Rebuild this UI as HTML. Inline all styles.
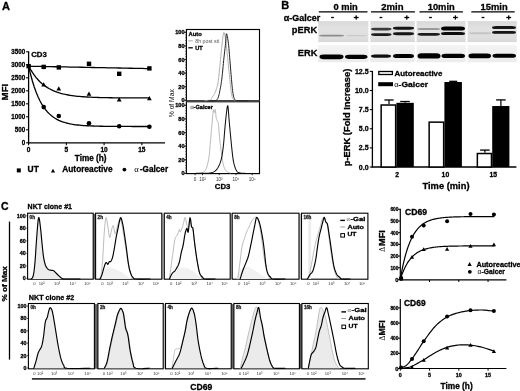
<!DOCTYPE html>
<html><head><meta charset="utf-8"><style>
html,body{margin:0;padding:0;background:#fff;}
body{width:520px;height:391px;overflow:hidden;}
svg{display:block;font-family:"Liberation Sans", sans-serif;filter:grayscale(100%);}
</style></head><body>
<svg width="520" height="391" viewBox="0 0 520 391">
<rect width="520" height="391" fill="#fff"/>
<text x="2" y="9.6" font-size="11" text-anchor="start" font-weight="bold" fill="#000" stroke="#000" stroke-width="0.3" stroke-linejoin="round">A</text>
<line x1="28.6" y1="51.30000000000001" x2="28.6" y2="143.4" stroke="#000" stroke-width="1.3"/>
<line x1="28.0" y1="142.8" x2="165" y2="142.8" stroke="#000" stroke-width="1.3"/>
<line x1="26.1" y1="142.8" x2="28.6" y2="142.8" stroke="#000" stroke-width="1.1"/>
<text x="25.2" y="145.10000000000002" font-size="6.6" text-anchor="end" font-weight="bold" fill="#000" textLength="3.48" lengthAdjust="spacingAndGlyphs" stroke="#000" stroke-width="0.3" stroke-linejoin="round">0</text>
<line x1="26.1" y1="129.8" x2="28.6" y2="129.8" stroke="#000" stroke-width="1.1"/>
<text x="25.2" y="132.10000000000002" font-size="6.6" text-anchor="end" font-weight="bold" fill="#000" textLength="10.43" lengthAdjust="spacingAndGlyphs" stroke="#000" stroke-width="0.3" stroke-linejoin="round">500</text>
<line x1="26.1" y1="116.80000000000001" x2="28.6" y2="116.80000000000001" stroke="#000" stroke-width="1.1"/>
<text x="25.2" y="119.10000000000001" font-size="6.6" text-anchor="end" font-weight="bold" fill="#000" textLength="13.9" lengthAdjust="spacingAndGlyphs" stroke="#000" stroke-width="0.3" stroke-linejoin="round">1000</text>
<line x1="26.1" y1="103.80000000000001" x2="28.6" y2="103.80000000000001" stroke="#000" stroke-width="1.1"/>
<text x="25.2" y="106.10000000000001" font-size="6.6" text-anchor="end" font-weight="bold" fill="#000" textLength="13.9" lengthAdjust="spacingAndGlyphs" stroke="#000" stroke-width="0.3" stroke-linejoin="round">1500</text>
<line x1="26.1" y1="90.80000000000001" x2="28.6" y2="90.80000000000001" stroke="#000" stroke-width="1.1"/>
<text x="25.2" y="93.10000000000001" font-size="6.6" text-anchor="end" font-weight="bold" fill="#000" textLength="13.9" lengthAdjust="spacingAndGlyphs" stroke="#000" stroke-width="0.3" stroke-linejoin="round">2000</text>
<line x1="26.1" y1="77.80000000000001" x2="28.6" y2="77.80000000000001" stroke="#000" stroke-width="1.1"/>
<text x="25.2" y="80.10000000000001" font-size="6.6" text-anchor="end" font-weight="bold" fill="#000" textLength="13.9" lengthAdjust="spacingAndGlyphs" stroke="#000" stroke-width="0.3" stroke-linejoin="round">2500</text>
<line x1="26.1" y1="64.80000000000001" x2="28.6" y2="64.80000000000001" stroke="#000" stroke-width="1.1"/>
<text x="25.2" y="67.10000000000001" font-size="6.6" text-anchor="end" font-weight="bold" fill="#000" textLength="13.9" lengthAdjust="spacingAndGlyphs" stroke="#000" stroke-width="0.3" stroke-linejoin="round">3000</text>
<line x1="26.1" y1="51.80000000000001" x2="28.6" y2="51.80000000000001" stroke="#000" stroke-width="1.1"/>
<text x="25.2" y="54.10000000000001" font-size="6.6" text-anchor="end" font-weight="bold" fill="#000" textLength="13.9" lengthAdjust="spacingAndGlyphs" stroke="#000" stroke-width="0.3" stroke-linejoin="round">3500</text>
<line x1="28.6" y1="142.8" x2="28.6" y2="145.3" stroke="#000" stroke-width="1.1"/>
<text x="28.6" y="151.9" font-size="6.5" text-anchor="middle" font-weight="bold" fill="#000" stroke="#000" stroke-width="0.3" stroke-linejoin="round">0</text>
<line x1="66.35" y1="142.8" x2="66.35" y2="145.3" stroke="#000" stroke-width="1.1"/>
<text x="66.35" y="151.9" font-size="6.5" text-anchor="middle" font-weight="bold" fill="#000" stroke="#000" stroke-width="0.3" stroke-linejoin="round">5</text>
<line x1="104.1" y1="142.8" x2="104.1" y2="145.3" stroke="#000" stroke-width="1.1"/>
<text x="104.1" y="151.9" font-size="6.5" text-anchor="middle" font-weight="bold" fill="#000" stroke="#000" stroke-width="0.3" stroke-linejoin="round">10</text>
<line x1="141.85" y1="142.8" x2="141.85" y2="145.3" stroke="#000" stroke-width="1.1"/>
<text x="141.85" y="151.9" font-size="6.5" text-anchor="middle" font-weight="bold" fill="#000" stroke="#000" stroke-width="0.3" stroke-linejoin="round">15</text>
<text x="90.7" y="161.4" font-size="8.2" text-anchor="middle" font-weight="bold" fill="#000" stroke="#000" stroke-width="0.3" stroke-linejoin="round">Time (h)</text>
<text x="7.9" y="92.1" font-size="9.4" text-anchor="middle" font-weight="bold" fill="#000" transform="rotate(-90 7.9 92.1)" textLength="16.6" lengthAdjust="spacingAndGlyphs" stroke="#000" stroke-width="0.3" stroke-linejoin="round">MFI</text>
<text x="31.2" y="57.2" font-size="7.8" text-anchor="start" font-weight="bold" fill="#000" stroke="#000" stroke-width="0.3" stroke-linejoin="round">CD3</text>
<path d="M28.60,66.20 L32.38,66.28 L36.15,66.35 L39.92,66.42 L43.70,66.50 L47.48,66.58 L51.25,66.65 L55.03,66.73 L58.80,66.80 L62.58,66.88 L66.35,66.95 L70.12,67.03 L73.90,67.10 L77.67,67.17 L81.45,67.25 L85.22,67.33 L89.00,67.40 L92.78,67.48 L96.55,67.55 L100.32,67.62 L104.10,67.70 L107.88,67.78 L111.65,67.85 L115.43,67.92 L119.20,68.00 L122.97,68.08 L126.75,68.15 L130.53,68.23 L134.30,68.30 L138.07,68.38 L141.85,68.45 L145.62,68.53 L149.40,68.60" fill="none" stroke="#000" stroke-width="1.3" stroke-linejoin="round" stroke-linecap="round"/>
<path d="M28.60,66.00 L30.49,69.40 L32.38,72.45 L34.26,75.17 L36.15,77.60 L38.04,79.77 L39.92,81.71 L41.81,83.44 L43.70,84.99 L45.59,86.37 L47.48,87.61 L49.36,88.72 L51.25,89.70 L53.14,90.59 L55.03,91.38 L56.91,92.08 L58.80,92.71 L60.69,93.27 L62.58,93.78 L64.46,94.23 L66.35,94.63 L68.24,94.99 L70.12,95.31 L72.01,95.59 L73.90,95.85 L75.79,96.08 L77.67,96.28 L79.56,96.47 L81.45,96.63 L83.34,96.77 L85.22,96.91 L87.11,97.02 L89.00,97.13 L90.89,97.22 L92.78,97.30 L94.66,97.38 L96.55,97.44 L98.44,97.50 L100.32,97.55 L102.21,97.60 L104.10,97.64 L105.99,97.68 L107.88,97.72 L109.76,97.75 L111.65,97.77 L113.54,97.80 L115.43,97.82 L117.31,97.84 L119.20,97.86 L121.09,97.87 L122.97,97.88 L124.86,97.90 L126.75,97.91 L128.64,97.92 L130.53,97.93 L132.41,97.93 L134.30,97.94 L136.19,97.95 L138.07,97.95 L139.96,97.96 L141.85,97.96 L143.74,97.97 L145.62,97.97 L147.51,97.97 L149.40,97.98" fill="none" stroke="#000" stroke-width="1.3" stroke-linejoin="round" stroke-linecap="round"/>
<path d="M28.60,66.00 L30.49,74.04 L32.38,81.00 L34.26,87.05 L36.15,92.29 L38.04,96.83 L39.92,100.77 L41.81,104.19 L43.70,107.15 L45.59,109.72 L47.48,111.95 L49.36,113.88 L51.25,115.56 L53.14,117.01 L55.03,118.27 L56.91,119.36 L58.80,120.31 L60.69,121.13 L62.58,121.85 L64.46,122.46 L66.35,123.00 L68.24,123.47 L70.12,123.87 L72.01,124.22 L73.90,124.52 L75.79,124.78 L77.67,125.01 L79.56,125.21 L81.45,125.38 L83.34,125.53 L85.22,125.66 L87.11,125.77 L89.00,125.87 L90.89,125.95 L92.78,126.02 L94.66,126.09 L96.55,126.14 L98.44,126.19 L100.32,126.23 L102.21,126.27 L104.10,126.30 L105.99,126.32 L107.88,126.35 L109.76,126.37 L111.65,126.39 L113.54,126.40 L115.43,126.41 L117.31,126.43 L119.20,126.44 L121.09,126.44 L122.97,126.45 L124.86,126.46 L126.75,126.46 L128.64,126.47 L130.53,126.47 L132.41,126.48 L134.30,126.48 L136.19,126.48 L138.07,126.48 L139.96,126.49 L141.85,126.49 L143.74,126.49 L145.62,126.49 L147.51,126.49 L149.40,126.49" fill="none" stroke="#000" stroke-width="1.3" stroke-linejoin="round" stroke-linecap="round"/>
<rect x="26.400000000000002" y="64.0" width="4.4" height="4.4" fill="#000"/>
<rect x="41.5" y="64.7" width="4.4" height="4.4" fill="#000"/>
<rect x="56.599999999999994" y="65.2" width="4.4" height="4.4" fill="#000"/>
<rect x="86.8" y="61.599999999999994" width="4.4" height="4.4" fill="#000"/>
<rect x="116.99999999999999" y="71.6" width="4.4" height="4.4" fill="#000"/>
<rect x="147.20000000000002" y="66.2" width="4.4" height="4.4" fill="#000"/>
<path d="M41.30,86.46 L46.10,86.46 L43.70,82.14 Z" fill="#000"/>
<path d="M56.40,90.46 L61.20,90.46 L58.80,86.14 Z" fill="#000"/>
<path d="M86.60,95.86 L91.40,95.86 L89.00,91.54 Z" fill="#000"/>
<path d="M116.80,101.46 L121.60,101.46 L119.20,97.14 Z" fill="#000"/>
<path d="M147.00,100.36 L151.80,100.36 L149.40,96.04 Z" fill="#000"/>
<circle cx="43.70" cy="107.10" r="2.3" fill="#000"/>
<circle cx="58.80" cy="116.00" r="2.3" fill="#000"/>
<circle cx="89.00" cy="123.20" r="2.3" fill="#000"/>
<circle cx="119.20" cy="126.30" r="2.3" fill="#000"/>
<circle cx="149.40" cy="126.70" r="2.3" fill="#000"/>
<rect x="16.8" y="168.4" width="4.0" height="4.0" fill="#000"/>
<text x="27.6" y="172.3" font-size="8.4" text-anchor="start" font-weight="bold" fill="#000" stroke="#000" stroke-width="0.3" stroke-linejoin="round">UT</text>
<path d="M50.90,172.49 L55.10,172.49 L53.00,168.71 Z" fill="#000"/>
<text x="62.3" y="172.3" font-size="8.2" text-anchor="start" font-weight="bold" fill="#000" textLength="50.3" lengthAdjust="spacingAndGlyphs" stroke="#000" stroke-width="0.3" stroke-linejoin="round">Autoreactive</text>
<circle cx="124.40" cy="169.60" r="1.9" fill="#000"/>
<text x="134.3" y="172.0" font-size="8.6" text-anchor="start" font-weight="normal" fill="#000" font-family="Liberation Serif">α</text>
<text x="139.8" y="172.0" font-size="8.3" text-anchor="start" font-weight="bold" fill="#000" textLength="28.3" lengthAdjust="spacingAndGlyphs" stroke="#000" stroke-width="0.3" stroke-linejoin="round">-Galcer</text>
<rect x="186.4" y="29.5" width="73.1" height="71.3" fill="none" stroke="#000" stroke-width="1.15"/>
<rect x="186.4" y="101.6" width="73.1" height="72.0" fill="none" stroke="#000" stroke-width="1.15"/>
<line x1="186.4" y1="101.2" x2="259.5" y2="101.2" stroke="#444" stroke-width="2.2"/>
<text x="184.5" y="34.3" font-size="5.6" text-anchor="end" font-weight="bold" fill="#000" stroke="#000" stroke-width="0.3" stroke-linejoin="round">100</text>
<line x1="184.2" y1="32.3" x2="186.4" y2="32.3" stroke="#000" stroke-width="0.9"/>
<text x="184.5" y="107.3" font-size="5.6" text-anchor="end" font-weight="bold" fill="#000" stroke="#000" stroke-width="0.3" stroke-linejoin="round">100</text>
<line x1="184.2" y1="105.3" x2="186.4" y2="105.3" stroke="#000" stroke-width="0.9"/>
<text x="184.5" y="47.9" font-size="5.6" text-anchor="end" font-weight="bold" fill="#000" stroke="#000" stroke-width="0.3" stroke-linejoin="round">80</text>
<line x1="184.2" y1="45.9" x2="186.4" y2="45.9" stroke="#000" stroke-width="0.9"/>
<text x="184.5" y="120.92" font-size="5.6" text-anchor="end" font-weight="bold" fill="#000" stroke="#000" stroke-width="0.3" stroke-linejoin="round">80</text>
<line x1="184.2" y1="118.92" x2="186.4" y2="118.92" stroke="#000" stroke-width="0.9"/>
<text x="184.5" y="61.5" font-size="5.6" text-anchor="end" font-weight="bold" fill="#000" stroke="#000" stroke-width="0.3" stroke-linejoin="round">60</text>
<line x1="184.2" y1="59.5" x2="186.4" y2="59.5" stroke="#000" stroke-width="0.9"/>
<text x="184.5" y="134.54" font-size="5.6" text-anchor="end" font-weight="bold" fill="#000" stroke="#000" stroke-width="0.3" stroke-linejoin="round">60</text>
<line x1="184.2" y1="132.54" x2="186.4" y2="132.54" stroke="#000" stroke-width="0.9"/>
<text x="184.5" y="75.1" font-size="5.6" text-anchor="end" font-weight="bold" fill="#000" stroke="#000" stroke-width="0.3" stroke-linejoin="round">40</text>
<line x1="184.2" y1="73.1" x2="186.4" y2="73.1" stroke="#000" stroke-width="0.9"/>
<text x="184.5" y="148.16" font-size="5.6" text-anchor="end" font-weight="bold" fill="#000" stroke="#000" stroke-width="0.3" stroke-linejoin="round">40</text>
<line x1="184.2" y1="146.16" x2="186.4" y2="146.16" stroke="#000" stroke-width="0.9"/>
<text x="184.5" y="88.69999999999999" font-size="5.6" text-anchor="end" font-weight="bold" fill="#000" stroke="#000" stroke-width="0.3" stroke-linejoin="round">20</text>
<line x1="184.2" y1="86.69999999999999" x2="186.4" y2="86.69999999999999" stroke="#000" stroke-width="0.9"/>
<text x="184.5" y="161.78" font-size="5.6" text-anchor="end" font-weight="bold" fill="#000" stroke="#000" stroke-width="0.3" stroke-linejoin="round">20</text>
<line x1="184.2" y1="159.78" x2="186.4" y2="159.78" stroke="#000" stroke-width="0.9"/>
<text x="184.5" y="102.3" font-size="5.6" text-anchor="end" font-weight="bold" fill="#000" stroke="#000" stroke-width="0.3" stroke-linejoin="round">0</text>
<line x1="184.2" y1="100.3" x2="186.4" y2="100.3" stroke="#000" stroke-width="0.9"/>
<text x="184.5" y="175.39999999999998" font-size="5.6" text-anchor="end" font-weight="bold" fill="#000" stroke="#000" stroke-width="0.3" stroke-linejoin="round">0</text>
<line x1="184.2" y1="173.39999999999998" x2="186.4" y2="173.39999999999998" stroke="#000" stroke-width="0.9"/>
<line x1="185.0" y1="32.3" x2="186.4" y2="32.3" stroke="#333" stroke-width="0.6"/>
<line x1="185.0" y1="105.3" x2="186.4" y2="105.3" stroke="#333" stroke-width="0.6"/>
<line x1="185.0" y1="35.019999999999996" x2="186.4" y2="35.019999999999996" stroke="#333" stroke-width="0.6"/>
<line x1="185.0" y1="108.024" x2="186.4" y2="108.024" stroke="#333" stroke-width="0.6"/>
<line x1="185.0" y1="37.739999999999995" x2="186.4" y2="37.739999999999995" stroke="#333" stroke-width="0.6"/>
<line x1="185.0" y1="110.74799999999999" x2="186.4" y2="110.74799999999999" stroke="#333" stroke-width="0.6"/>
<line x1="185.0" y1="40.459999999999994" x2="186.4" y2="40.459999999999994" stroke="#333" stroke-width="0.6"/>
<line x1="185.0" y1="113.472" x2="186.4" y2="113.472" stroke="#333" stroke-width="0.6"/>
<line x1="185.0" y1="43.17999999999999" x2="186.4" y2="43.17999999999999" stroke="#333" stroke-width="0.6"/>
<line x1="185.0" y1="116.196" x2="186.4" y2="116.196" stroke="#333" stroke-width="0.6"/>
<line x1="185.0" y1="45.9" x2="186.4" y2="45.9" stroke="#333" stroke-width="0.6"/>
<line x1="185.0" y1="118.92" x2="186.4" y2="118.92" stroke="#333" stroke-width="0.6"/>
<line x1="185.0" y1="48.62" x2="186.4" y2="48.62" stroke="#333" stroke-width="0.6"/>
<line x1="185.0" y1="121.644" x2="186.4" y2="121.644" stroke="#333" stroke-width="0.6"/>
<line x1="185.0" y1="51.339999999999996" x2="186.4" y2="51.339999999999996" stroke="#333" stroke-width="0.6"/>
<line x1="185.0" y1="124.368" x2="186.4" y2="124.368" stroke="#333" stroke-width="0.6"/>
<line x1="185.0" y1="54.059999999999995" x2="186.4" y2="54.059999999999995" stroke="#333" stroke-width="0.6"/>
<line x1="185.0" y1="127.092" x2="186.4" y2="127.092" stroke="#333" stroke-width="0.6"/>
<line x1="185.0" y1="56.779999999999994" x2="186.4" y2="56.779999999999994" stroke="#333" stroke-width="0.6"/>
<line x1="185.0" y1="129.816" x2="186.4" y2="129.816" stroke="#333" stroke-width="0.6"/>
<line x1="185.0" y1="59.5" x2="186.4" y2="59.5" stroke="#333" stroke-width="0.6"/>
<line x1="185.0" y1="132.54" x2="186.4" y2="132.54" stroke="#333" stroke-width="0.6"/>
<line x1="185.0" y1="62.22" x2="186.4" y2="62.22" stroke="#333" stroke-width="0.6"/>
<line x1="185.0" y1="135.264" x2="186.4" y2="135.264" stroke="#333" stroke-width="0.6"/>
<line x1="185.0" y1="64.94" x2="186.4" y2="64.94" stroke="#333" stroke-width="0.6"/>
<line x1="185.0" y1="137.988" x2="186.4" y2="137.988" stroke="#333" stroke-width="0.6"/>
<line x1="185.0" y1="67.66" x2="186.4" y2="67.66" stroke="#333" stroke-width="0.6"/>
<line x1="185.0" y1="140.712" x2="186.4" y2="140.712" stroke="#333" stroke-width="0.6"/>
<line x1="185.0" y1="70.38" x2="186.4" y2="70.38" stroke="#333" stroke-width="0.6"/>
<line x1="185.0" y1="143.43599999999998" x2="186.4" y2="143.43599999999998" stroke="#333" stroke-width="0.6"/>
<line x1="185.0" y1="73.1" x2="186.4" y2="73.1" stroke="#333" stroke-width="0.6"/>
<line x1="185.0" y1="146.16" x2="186.4" y2="146.16" stroke="#333" stroke-width="0.6"/>
<line x1="185.0" y1="75.82" x2="186.4" y2="75.82" stroke="#333" stroke-width="0.6"/>
<line x1="185.0" y1="148.884" x2="186.4" y2="148.884" stroke="#333" stroke-width="0.6"/>
<line x1="185.0" y1="78.53999999999999" x2="186.4" y2="78.53999999999999" stroke="#333" stroke-width="0.6"/>
<line x1="185.0" y1="151.608" x2="186.4" y2="151.608" stroke="#333" stroke-width="0.6"/>
<line x1="185.0" y1="81.25999999999999" x2="186.4" y2="81.25999999999999" stroke="#333" stroke-width="0.6"/>
<line x1="185.0" y1="154.332" x2="186.4" y2="154.332" stroke="#333" stroke-width="0.6"/>
<line x1="185.0" y1="83.97999999999999" x2="186.4" y2="83.97999999999999" stroke="#333" stroke-width="0.6"/>
<line x1="185.0" y1="157.05599999999998" x2="186.4" y2="157.05599999999998" stroke="#333" stroke-width="0.6"/>
<line x1="185.0" y1="86.69999999999999" x2="186.4" y2="86.69999999999999" stroke="#333" stroke-width="0.6"/>
<line x1="185.0" y1="159.78" x2="186.4" y2="159.78" stroke="#333" stroke-width="0.6"/>
<line x1="185.0" y1="89.41999999999999" x2="186.4" y2="89.41999999999999" stroke="#333" stroke-width="0.6"/>
<line x1="185.0" y1="162.504" x2="186.4" y2="162.504" stroke="#333" stroke-width="0.6"/>
<line x1="185.0" y1="92.13999999999999" x2="186.4" y2="92.13999999999999" stroke="#333" stroke-width="0.6"/>
<line x1="185.0" y1="165.228" x2="186.4" y2="165.228" stroke="#333" stroke-width="0.6"/>
<line x1="185.0" y1="94.86" x2="186.4" y2="94.86" stroke="#333" stroke-width="0.6"/>
<line x1="185.0" y1="167.952" x2="186.4" y2="167.952" stroke="#333" stroke-width="0.6"/>
<line x1="185.0" y1="97.58" x2="186.4" y2="97.58" stroke="#333" stroke-width="0.6"/>
<line x1="185.0" y1="170.676" x2="186.4" y2="170.676" stroke="#333" stroke-width="0.6"/>
<line x1="185.0" y1="100.3" x2="186.4" y2="100.3" stroke="#333" stroke-width="0.6"/>
<line x1="185.0" y1="173.39999999999998" x2="186.4" y2="173.39999999999998" stroke="#333" stroke-width="0.6"/>
<text x="174.0" y="103.2" font-size="7.0" text-anchor="middle" font-weight="normal" fill="#111" transform="rotate(-90 174.0 103.2)" textLength="28.0" lengthAdjust="spacingAndGlyphs">% of Max</text>
<text x="188.6" y="35.6" font-size="5.8" text-anchor="start" font-weight="bold" fill="#000" stroke="#000" stroke-width="0.3" stroke-linejoin="round">Auto</text>
<line x1="188.3" y1="40.8" x2="192.8" y2="40.8" stroke="#aaa" stroke-width="1.0"/>
<text x="195.2" y="42.8" font-size="5.3" text-anchor="start" font-weight="normal" fill="#555">8h post sti</text>
<line x1="188.3" y1="47.8" x2="192.8" y2="47.8" stroke="#000" stroke-width="1.3"/>
<text x="195.2" y="49.8" font-size="5.6" text-anchor="start" font-weight="bold" fill="#000" stroke="#000" stroke-width="0.3" stroke-linejoin="round">UT</text>
<text x="190.2" y="108.8" font-size="5.6" text-anchor="start" font-weight="bold" fill="#999" stroke="#999" stroke-width="0.3" stroke-linejoin="round">α</text>
<text x="193.6" y="108.8" font-size="5.6" text-anchor="start" font-weight="bold" fill="#000" stroke="#000" stroke-width="0.3" stroke-linejoin="round">-Galcer</text>
<path d="M205.00,100.60 L205.33,100.58 L205.80,100.56 L206.35,100.53 L206.93,100.49 L207.50,100.45 L208.00,100.40 L208.44,100.37 L208.86,100.37 L209.27,100.37 L209.66,100.33 L210.04,100.21 L210.40,100.00 L210.73,99.68 L211.03,99.29 L211.32,98.82 L211.61,98.29 L211.93,97.72 L212.30,97.10 L212.73,96.48 L213.20,95.84 L213.69,95.16 L214.20,94.39 L214.71,93.48 L215.20,92.40 L215.68,91.18 L216.17,89.87 L216.66,88.42 L217.14,86.80 L217.59,84.97 L218.00,82.90 L218.37,80.52 L218.70,77.86 L219.01,74.99 L219.30,71.99 L219.59,68.94 L219.90,65.90 L220.22,62.79 L220.53,59.54 L220.85,56.23 L221.17,52.95 L221.48,49.81 L221.80,46.90 L222.12,44.01 L222.43,41.04 L222.75,38.19 L223.07,35.71 L223.38,33.80 L223.70,32.70 L224.02,32.49 L224.33,33.00 L224.65,34.10 L224.97,35.63 L225.28,37.45 L225.60,39.40 L225.92,41.62 L226.23,44.23 L226.55,47.14 L226.87,50.21 L227.18,53.34 L227.50,56.40 L227.82,59.46 L228.13,62.63 L228.45,65.84 L228.77,69.06 L229.08,72.23 L229.40,75.30 L229.72,78.38 L230.04,81.52 L230.36,84.62 L230.67,87.54 L230.99,90.18 L231.30,92.40 L231.59,94.17 L231.87,95.56 L232.14,96.67 L232.42,97.56 L232.74,98.31 L233.10,99.00 L233.55,99.57 L234.09,99.96 L234.66,100.21 L235.21,100.37 L235.67,100.48 L236.00,100.60" fill="none" stroke="#a8a8a8" stroke-width="0.9" stroke-linejoin="round" stroke-linecap="round"/>
<path d="M208.00,100.80 L208.83,100.82 L210.03,100.87 L211.43,100.91 L212.86,100.92 L214.17,100.86 L215.20,100.70 L215.93,100.47 L216.49,100.20 L216.93,99.87 L217.30,99.43 L217.64,98.85 L218.00,98.10 L218.37,97.17 L218.70,96.08 L219.01,94.85 L219.30,93.50 L219.59,92.04 L219.90,90.50 L220.22,88.91 L220.53,87.26 L220.85,85.51 L221.17,83.60 L221.48,81.48 L221.80,79.10 L222.12,76.36 L222.43,73.29 L222.75,70.00 L223.07,66.64 L223.38,63.33 L223.70,60.20 L224.03,57.17 L224.37,54.11 L224.71,51.11 L225.04,48.24 L225.34,45.58 L225.60,43.20 L225.80,40.96 L225.94,38.77 L226.05,36.79 L226.16,35.18 L226.30,34.10 L226.50,33.70 L226.76,34.10 L227.07,35.18 L227.41,36.79 L227.76,38.77 L228.09,40.96 L228.40,43.20 L228.67,45.60 L228.93,48.31 L229.18,51.23 L229.42,54.26 L229.66,57.28 L229.90,60.20 L230.14,63.08 L230.38,66.00 L230.61,68.93 L230.84,71.81 L231.07,74.58 L231.30,77.20 L231.52,79.70 L231.73,82.12 L231.94,84.44 L232.16,86.63 L232.37,88.66 L232.60,90.50 L232.82,92.15 L233.04,93.64 L233.26,94.97 L233.50,96.15 L233.77,97.19 L234.10,98.10 L234.40,98.85 L234.63,99.43 L234.90,99.87 L235.30,100.20 L235.94,100.47 L236.90,100.70 L238.40,100.86 L240.40,100.92 L242.62,100.91 L244.81,100.87 L246.70,100.82 L248.00,100.80" fill="none" stroke="#222" stroke-width="1.0" stroke-linejoin="round" stroke-linecap="round"/>
<path d="M200.00,173.00 L200.40,172.92 L200.96,172.84 L201.62,172.74 L202.33,172.58 L203.00,172.34 L203.60,172.00 L204.12,171.61 L204.60,171.19 L205.07,170.69 L205.52,170.06 L205.96,169.25 L206.40,168.20 L206.85,166.88 L207.30,165.33 L207.74,163.59 L208.17,161.72 L208.56,159.77 L208.90,157.80 L209.19,155.79 L209.42,153.68 L209.62,151.50 L209.81,149.25 L210.00,146.95 L210.20,144.60 L210.42,142.16 L210.64,139.61 L210.86,137.00 L211.07,134.39 L211.29,131.84 L211.50,129.40 L211.71,127.01 L211.92,124.60 L212.13,122.25 L212.33,120.02 L212.52,117.98 L212.70,116.20 L212.86,114.63 L212.99,113.23 L213.12,112.01 L213.24,111.01 L213.37,110.26 L213.50,109.80 L213.65,109.79 L213.80,110.23 L213.95,110.93 L214.10,111.68 L214.25,112.27 L214.40,112.50 L214.54,112.22 L214.67,111.57 L214.80,110.76 L214.93,110.01 L215.06,109.55 L215.20,109.60 L215.35,110.29 L215.50,111.47 L215.66,112.93 L215.81,114.48 L215.96,115.90 L216.10,117.00 L216.22,117.75 L216.32,118.30 L216.41,118.73 L216.51,119.11 L216.64,119.51 L216.80,120.00 L217.00,120.44 L217.24,120.76 L217.51,121.09 L217.78,121.59 L218.05,122.41 L218.30,123.70 L218.53,125.57 L218.76,127.92 L218.98,130.59 L219.20,133.41 L219.44,136.24 L219.70,138.90 L219.99,141.47 L220.30,144.08 L220.62,146.69 L220.95,149.24 L221.28,151.70 L221.60,154.00 L221.91,156.18 L222.20,158.29 L222.49,160.29 L222.80,162.16 L223.13,163.87 L223.50,165.40 L223.90,166.72 L224.33,167.86 L224.79,168.84 L225.27,169.69 L225.77,170.44 L226.30,171.10 L226.91,171.66 L227.60,172.09 L228.33,172.41 L229.01,172.65 L229.59,172.84 L230.00,173.00" fill="none" stroke="#b0b0b0" stroke-width="0.9" stroke-linejoin="round" stroke-linecap="round"/>
<path d="M196.00,173.30 L197.54,173.29 L199.73,173.28 L202.30,173.27 L204.94,173.23 L207.38,173.15 L209.30,173.00 L210.70,172.81 L211.80,172.59 L212.69,172.33 L213.45,172.01 L214.16,171.60 L214.90,171.10 L215.65,170.51 L216.33,169.85 L216.97,169.11 L217.57,168.28 L218.14,167.35 L218.70,166.30 L219.25,165.15 L219.77,163.91 L220.27,162.58 L220.74,161.12 L221.18,159.53 L221.60,157.80 L221.98,155.90 L222.33,153.82 L222.65,151.62 L222.95,149.32 L223.23,146.97 L223.50,144.60 L223.75,142.18 L223.97,139.68 L224.18,137.12 L224.37,134.53 L224.58,131.95 L224.80,129.40 L225.04,126.80 L225.29,124.12 L225.54,121.44 L225.79,118.85 L226.05,116.44 L226.30,114.30 L226.55,112.23 L226.81,110.10 L227.06,108.16 L227.31,106.63 L227.56,105.73 L227.80,105.70 L228.03,106.75 L228.24,108.74 L228.46,111.37 L228.67,114.33 L228.88,117.31 L229.10,120.00 L229.33,122.47 L229.56,124.97 L229.79,127.50 L230.02,130.04 L230.26,132.57 L230.50,135.10 L230.74,137.66 L230.99,140.27 L231.24,142.88 L231.50,145.44 L231.75,147.90 L232.00,150.20 L232.24,152.36 L232.47,154.41 L232.70,156.37 L232.94,158.22 L233.20,159.96 L233.50,161.60 L233.83,163.14 L234.19,164.57 L234.57,165.90 L234.97,167.12 L235.38,168.22 L235.80,169.20 L236.20,170.04 L236.56,170.74 L236.94,171.33 L237.38,171.82 L237.92,172.24 L238.60,172.60 L239.53,172.88 L240.70,173.06 L241.97,173.16 L243.21,173.22 L244.26,173.26 L245.00,173.30" fill="none" stroke="#111" stroke-width="1.05" stroke-linejoin="round" stroke-linecap="round"/>
<text x="195.1" y="180.6" font-size="4.6" text-anchor="middle" font-weight="normal" fill="#333">0</text>
<text x="202.5" y="180.6" font-size="4.6" text-anchor="middle" font-weight="normal" fill="#333">10²</text>
<text x="219.2" y="180.6" font-size="4.6" text-anchor="middle" font-weight="normal" fill="#333">10³</text>
<text x="236" y="180.6" font-size="4.6" text-anchor="middle" font-weight="normal" fill="#333">10⁴</text>
<text x="252.2" y="180.6" font-size="4.6" text-anchor="middle" font-weight="normal" fill="#333">10⁵</text>
<line x1="195.1" y1="173.4" x2="195.1" y2="175.2" stroke="#000" stroke-width="0.8"/>
<line x1="202.5" y1="173.4" x2="202.5" y2="175.2" stroke="#000" stroke-width="0.8"/>
<line x1="219.2" y1="173.4" x2="219.2" y2="175.2" stroke="#000" stroke-width="0.8"/>
<line x1="236" y1="173.4" x2="236" y2="175.2" stroke="#000" stroke-width="0.8"/>
<line x1="252.2" y1="173.4" x2="252.2" y2="175.2" stroke="#000" stroke-width="0.8"/>
<text x="222.6" y="188.6" font-size="7.8" text-anchor="middle" font-weight="bold" fill="#000" stroke="#000" stroke-width="0.3" stroke-linejoin="round">CD3</text>
<defs><filter id="bl" x="-20%" y="-100%" width="140%" height="300%"><feGaussianBlur stdDeviation="0.6"/></filter><linearGradient id="pg" x1="0" y1="0" x2="0" y2="1"><stop offset="0" stop-color="#d9d9d9"/><stop offset="0.35" stop-color="#e2e2e2"/><stop offset="0.8" stop-color="#dedede"/><stop offset="1" stop-color="#d8d8d8"/></linearGradient><linearGradient id="eg" x1="0" y1="0" x2="0" y2="1"><stop offset="0" stop-color="#f4f4f4"/><stop offset="0.5" stop-color="#eeeeee"/><stop offset="1" stop-color="#ececec"/></linearGradient><filter id="bl2" x="-20%" y="-100%" width="140%" height="300%"><feGaussianBlur stdDeviation="0.45"/></filter></defs>
<text x="281.3" y="9.2" font-size="11" text-anchor="start" font-weight="bold" fill="#000" stroke="#000" stroke-width="0.3" stroke-linejoin="round">B</text>
<text x="345.6" y="9.8" font-size="9.4" text-anchor="middle" font-weight="bold" fill="#000" textLength="24.4" lengthAdjust="spacingAndGlyphs" stroke="#000" stroke-width="0.3" stroke-linejoin="round">0 min</text>
<line x1="318.8" y1="11.8" x2="367.5" y2="11.8" stroke="#000" stroke-width="1.2"/>
<rect x="331.15" y="16.85" width="2.7" height="1.3" fill="#000"/>
<rect x="353.8" y="16.85" width="4.8" height="1.3" fill="#000"/>
<rect x="355.55" y="15.4" width="1.3" height="4.2" fill="#000"/>
<rect x="318.2" y="21.1" width="50.19999999999999" height="21.0" fill="url(#pg)"/>
<rect x="318.2" y="45.0" width="50.19999999999999" height="17.2" fill="url(#eg)"/>
<text x="392.4" y="9.8" font-size="9.4" text-anchor="middle" font-weight="bold" fill="#000" textLength="22.4" lengthAdjust="spacingAndGlyphs" stroke="#000" stroke-width="0.3" stroke-linejoin="round">2min</text>
<line x1="371.0" y1="11.8" x2="414.9" y2="11.8" stroke="#000" stroke-width="1.2"/>
<rect x="379.54999999999995" y="16.85" width="2.7" height="1.3" fill="#000"/>
<rect x="404.40000000000003" y="16.85" width="4.8" height="1.3" fill="#000"/>
<rect x="406.15000000000003" y="15.4" width="1.3" height="4.2" fill="#000"/>
<rect x="370.4" y="21.1" width="44.400000000000034" height="21.0" fill="url(#pg)"/>
<rect x="370.4" y="45.0" width="44.400000000000034" height="17.2" fill="url(#eg)"/>
<text x="441.2" y="9.8" font-size="9.4" text-anchor="middle" font-weight="bold" fill="#000" textLength="27.0" lengthAdjust="spacingAndGlyphs" stroke="#000" stroke-width="0.3" stroke-linejoin="round">10min</text>
<line x1="419.5" y1="11.8" x2="462.9" y2="11.8" stroke="#000" stroke-width="1.2"/>
<rect x="429.15" y="16.85" width="2.7" height="1.3" fill="#000"/>
<rect x="453.0" y="16.85" width="4.8" height="1.3" fill="#000"/>
<rect x="454.75" y="15.4" width="1.3" height="4.2" fill="#000"/>
<rect x="416.6" y="21.1" width="49.0" height="21.0" fill="url(#pg)"/>
<rect x="416.6" y="45.0" width="49.0" height="17.2" fill="url(#eg)"/>
<text x="494.1" y="9.8" font-size="9.4" text-anchor="middle" font-weight="bold" fill="#000" textLength="27.0" lengthAdjust="spacingAndGlyphs" stroke="#000" stroke-width="0.3" stroke-linejoin="round">15min</text>
<line x1="471.3" y1="11.8" x2="514.7" y2="11.8" stroke="#000" stroke-width="1.2"/>
<rect x="481.65" y="16.85" width="2.7" height="1.3" fill="#000"/>
<rect x="506.3" y="16.85" width="4.8" height="1.3" fill="#000"/>
<rect x="508.05" y="15.4" width="1.3" height="4.2" fill="#000"/>
<rect x="467.6" y="21.1" width="49.19999999999993" height="21.0" fill="url(#pg)"/>
<rect x="467.6" y="45.0" width="49.19999999999993" height="17.2" fill="url(#eg)"/>
<text x="283.8" y="20.5" font-size="8.6" text-anchor="start" font-weight="bold" fill="#000" textLength="36.4" lengthAdjust="spacingAndGlyphs" stroke="#000" stroke-width="0.3" stroke-linejoin="round">α-Galcer</text>
<text x="291.8" y="32.8" font-size="9.3" text-anchor="start" font-weight="bold" fill="#000" stroke="#000" stroke-width="0.3" stroke-linejoin="round">pERK</text>
<text x="297.8" y="56.4" font-size="9.3" text-anchor="start" font-weight="bold" fill="#000" textLength="19.6" lengthAdjust="spacingAndGlyphs" stroke="#000" stroke-width="0.3" stroke-linejoin="round">ERK</text>
<rect x="319.00" y="34.70" width="25.00" height="1.80" rx="4" ry="0.90" fill="#8c8c8c" filter="url(#bl)"/>
<rect x="346.00" y="34.90" width="21.00" height="1.40" rx="4" ry="0.70" fill="#cacaca" filter="url(#bl)"/>
<rect x="371.00" y="27.80" width="20.50" height="2.60" rx="4" ry="1.30" fill="#3a3a3a" filter="url(#bl)"/>
<rect x="371.00" y="33.20" width="20.50" height="2.80" rx="4" ry="1.40" fill="#1c1c1c" filter="url(#bl)"/>
<rect x="393.00" y="26.85" width="21.00" height="2.90" rx="4" ry="1.45" fill="#151515" filter="url(#bl)"/>
<rect x="393.00" y="32.25" width="21.00" height="2.90" rx="4" ry="1.45" fill="#151515" filter="url(#bl)"/>
<rect x="417.50" y="27.90" width="22.50" height="2.20" rx="4" ry="1.10" fill="#9a9a9a" filter="url(#bl)"/>
<rect x="417.50" y="32.90" width="22.50" height="2.80" rx="4" ry="1.40" fill="#1a1a1a" filter="url(#bl)"/>
<rect x="441.00" y="26.60" width="24.00" height="4.00" rx="4" ry="2.00" fill="#000" filter="url(#bl)"/>
<rect x="441.00" y="32.10" width="24.00" height="3.00" rx="4" ry="1.50" fill="#0a0a0a" filter="url(#bl)"/>
<rect x="469.00" y="32.20" width="22.00" height="2.00" rx="4" ry="1.00" fill="#c4c4c4" filter="url(#bl)"/>
<rect x="492.00" y="25.90" width="24.00" height="3.00" rx="4" ry="1.50" fill="#151515" filter="url(#bl)"/>
<rect x="492.00" y="31.00" width="24.00" height="2.80" rx="4" ry="1.40" fill="#151515" filter="url(#bl)"/>
<rect x="319.50" y="54.40" width="24.00" height="4.80" rx="4" ry="2.40" fill="#000" filter="url(#bl)"/>
<rect x="345.00" y="54.70" width="22.50" height="4.20" rx="4" ry="2.10" fill="#000" filter="url(#bl)"/>
<rect x="371.00" y="54.40" width="20.00" height="3.40" rx="4" ry="1.70" fill="#0a0a0a" filter="url(#bl)"/>
<rect x="393.00" y="53.90" width="21.00" height="4.00" rx="4" ry="2.00" fill="#000" filter="url(#bl)"/>
<rect x="417.50" y="53.30" width="23.00" height="5.20" rx="4" ry="2.60" fill="#000" filter="url(#bl)"/>
<rect x="441.50" y="53.80" width="23.50" height="4.20" rx="4" ry="2.10" fill="#000" filter="url(#bl)"/>
<rect x="468.50" y="53.60" width="22.50" height="4.60" rx="4" ry="2.30" fill="#000" filter="url(#bl)"/>
<rect x="492.50" y="53.70" width="23.50" height="4.00" rx="4" ry="2.00" fill="#000" filter="url(#bl)"/>
<line x1="372.4" y1="70.875" x2="372.4" y2="167.6" stroke="#000" stroke-width="1.3"/>
<line x1="371.79999999999995" y1="167.0" x2="516.4" y2="167.0" stroke="#000" stroke-width="1.3"/>
<line x1="369.79999999999995" y1="167.0" x2="372.4" y2="167.0" stroke="#000" stroke-width="1.1"/>
<text x="368.6" y="169.5" font-size="7.0" text-anchor="end" font-weight="bold" fill="#000" stroke="#000" stroke-width="0.3" stroke-linejoin="round">0.0</text>
<line x1="369.79999999999995" y1="147.875" x2="372.4" y2="147.875" stroke="#000" stroke-width="1.1"/>
<text x="368.6" y="150.375" font-size="7.0" text-anchor="end" font-weight="bold" fill="#000" stroke="#000" stroke-width="0.3" stroke-linejoin="round">2.5</text>
<line x1="369.79999999999995" y1="128.75" x2="372.4" y2="128.75" stroke="#000" stroke-width="1.1"/>
<text x="368.6" y="131.25" font-size="7.0" text-anchor="end" font-weight="bold" fill="#000" stroke="#000" stroke-width="0.3" stroke-linejoin="round">5.0</text>
<line x1="369.79999999999995" y1="109.625" x2="372.4" y2="109.625" stroke="#000" stroke-width="1.1"/>
<text x="368.6" y="112.125" font-size="7.0" text-anchor="end" font-weight="bold" fill="#000" stroke="#000" stroke-width="0.3" stroke-linejoin="round">7.5</text>
<line x1="369.79999999999995" y1="90.5" x2="372.4" y2="90.5" stroke="#000" stroke-width="1.1"/>
<text x="368.6" y="93.0" font-size="7.0" text-anchor="end" font-weight="bold" fill="#000" stroke="#000" stroke-width="0.3" stroke-linejoin="round">10.0</text>
<line x1="369.79999999999995" y1="71.375" x2="372.4" y2="71.375" stroke="#000" stroke-width="1.1"/>
<text x="368.6" y="73.875" font-size="7.0" text-anchor="end" font-weight="bold" fill="#000" stroke="#000" stroke-width="0.3" stroke-linejoin="round">12.5</text>
<text x="397.2" y="177.0" font-size="6.8" text-anchor="middle" font-weight="bold" fill="#000" stroke="#000" stroke-width="0.3" stroke-linejoin="round">2</text>
<text x="445.4" y="177.0" font-size="6.8" text-anchor="middle" font-weight="bold" fill="#000" stroke="#000" stroke-width="0.3" stroke-linejoin="round">10</text>
<text x="493.2" y="177.0" font-size="6.8" text-anchor="middle" font-weight="bold" fill="#000" stroke="#000" stroke-width="0.3" stroke-linejoin="round">15</text>
<text x="446.0" y="188.8" font-size="9.2" text-anchor="middle" font-weight="bold" fill="#000" textLength="47.0" lengthAdjust="spacingAndGlyphs" stroke="#000" stroke-width="0.3" stroke-linejoin="round">Time (min)</text>
<text x="350.4" y="117.5" font-size="9.2" text-anchor="middle" font-weight="bold" fill="#000" transform="rotate(-90 350.4 117.5)" textLength="97.6" lengthAdjust="spacingAndGlyphs" stroke="#000" stroke-width="0.3" stroke-linejoin="round">p-ERK (Fold Increase)</text>
<line x1="389.0" y1="99.986" x2="389.0" y2="104.27000000000001" stroke="#000" stroke-width="1.2"/>
<line x1="384.4" y1="99.986" x2="393.6" y2="99.986" stroke="#000" stroke-width="1.3"/>
<line x1="405.0" y1="101.51599999999999" x2="405.0" y2="102.81649999999999" stroke="#000" stroke-width="1.2"/>
<line x1="400.2" y1="101.51599999999999" x2="409.8" y2="101.51599999999999" stroke="#000" stroke-width="1.3"/>
<line x1="453.2" y1="81.32000000000001" x2="453.2" y2="82.0085" stroke="#000" stroke-width="1.2"/>
<line x1="449.2" y1="81.32000000000001" x2="457.2" y2="81.32000000000001" stroke="#000" stroke-width="1.3"/>
<line x1="484.9" y1="150.0935" x2="484.9" y2="152.771" stroke="#000" stroke-width="1.2"/>
<line x1="480.09999999999997" y1="150.0935" x2="489.7" y2="150.0935" stroke="#000" stroke-width="1.3"/>
<line x1="500.9" y1="99.9095" x2="500.9" y2="106.0295" stroke="#000" stroke-width="1.2"/>
<line x1="496.09999999999997" y1="99.9095" x2="505.7" y2="99.9095" stroke="#000" stroke-width="1.3"/>
<rect x="381.15" y="105.02000000000001" width="14.5" height="61.97999999999999" fill="#fff" stroke="#000" stroke-width="1.5"/>
<rect x="396.4" y="102.81649999999999" width="17.400000000000034" height="64.18350000000001" fill="#000"/>
<rect x="429.15" y="122.156" width="14.5" height="44.843999999999994" fill="#fff" stroke="#000" stroke-width="1.5"/>
<rect x="444.4" y="82.0085" width="17.5" height="84.9915" fill="#000"/>
<rect x="477.35" y="153.521" width="14.099999999999966" height="13.479000000000013" fill="#fff" stroke="#000" stroke-width="1.5"/>
<rect x="492.2" y="106.0295" width="17.19999999999999" height="60.9705" fill="#000"/>
<rect x="378.8" y="71.5" width="13.6" height="3.0" fill="#fff" stroke="#000" stroke-width="1.3"/>
<text x="394.6" y="76.1" font-size="7.8" text-anchor="start" font-weight="bold" fill="#000" textLength="47.8" lengthAdjust="spacingAndGlyphs" stroke="#000" stroke-width="0.3" stroke-linejoin="round">Autoreactive</text>
<rect x="378.2" y="82.2" width="14.8" height="4.0" fill="#000"/>
<text x="394.3" y="87.4" font-size="8.0" text-anchor="start" font-weight="normal" fill="#000" font-family="Liberation Serif">α</text>
<text x="398.6" y="87.4" font-size="7.9" text-anchor="start" font-weight="bold" fill="#000" textLength="29.4" lengthAdjust="spacingAndGlyphs" stroke="#000" stroke-width="0.3" stroke-linejoin="round">-Galcer</text>
<text x="1.0" y="209.6" font-size="10.5" text-anchor="start" font-weight="bold" fill="#000" stroke="#000" stroke-width="0.3" stroke-linejoin="round">C</text>
<text x="27.6" y="208.7" font-size="7.2" text-anchor="start" font-weight="bold" fill="#000" textLength="44.4" lengthAdjust="spacingAndGlyphs" stroke="#000" stroke-width="0.3" stroke-linejoin="round">NKT clone #1</text>
<text x="28.8" y="300.2" font-size="7.2" text-anchor="start" font-weight="bold" fill="#000" stroke="#000" stroke-width="0.3" stroke-linejoin="round">NKT clone #2</text>
<line x1="9.5" y1="221.6" x2="9.5" y2="359.6" stroke="#000" stroke-width="1.3"/>
<text x="6.8" y="283.9" font-size="7.6" text-anchor="middle" font-weight="bold" fill="#000" transform="rotate(-90 6.8 283.9)" textLength="35.4" lengthAdjust="spacingAndGlyphs" stroke="#000" stroke-width="0.3" stroke-linejoin="round">% of Max</text>
<line x1="31.9" y1="378.9" x2="365.5" y2="378.9" stroke="#333" stroke-width="1.6"/>
<text x="201.3" y="389.9" font-size="8.6" text-anchor="middle" font-weight="bold" fill="#000" stroke="#000" stroke-width="0.3" stroke-linejoin="round">CD69</text>
<rect x="93.2" y="213.79999999999998" width="2.3999999999999915" height="65.4" fill="#666"/>
<rect x="161.8" y="213.79999999999998" width="2.5" height="65.4" fill="#c0c0c0"/>
<rect x="230.2" y="213.79999999999998" width="2.0" height="65.4" fill="#c8c8c8"/>
<rect x="299.0" y="213.79999999999998" width="2.5" height="65.4" fill="#c8c8c8"/>
<rect x="27.6" y="213.2" width="65.6" height="66.0" fill="#fff" stroke="#000" stroke-width="1.1"/>
<text x="34.4224" y="285.2" font-size="4.2" text-anchor="middle" font-weight="normal" fill="#333">0</text>
<text x="41.704" y="285.2" font-size="4.2" text-anchor="middle" font-weight="normal" fill="#333">10²</text>
<text x="57.120000000000005" y="285.2" font-size="4.2" text-anchor="middle" font-weight="normal" fill="#333">10³</text>
<text x="72.7328" y="285.2" font-size="4.2" text-anchor="middle" font-weight="normal" fill="#333">10⁴</text>
<text x="87.49279999999999" y="285.2" font-size="4.2" text-anchor="middle" font-weight="normal" fill="#333">10⁵</text>
<rect x="95.6" y="213.2" width="66.20000000000002" height="66.0" fill="#fff" stroke="#000" stroke-width="1.1"/>
<text x="102.48479999999999" y="285.2" font-size="4.2" text-anchor="middle" font-weight="normal" fill="#333">0</text>
<text x="109.833" y="285.2" font-size="4.2" text-anchor="middle" font-weight="normal" fill="#333">10²</text>
<text x="125.39" y="285.2" font-size="4.2" text-anchor="middle" font-weight="normal" fill="#333">10³</text>
<text x="141.1456" y="285.2" font-size="4.2" text-anchor="middle" font-weight="normal" fill="#333">10⁴</text>
<text x="156.0406" y="285.2" font-size="4.2" text-anchor="middle" font-weight="normal" fill="#333">10⁵</text>
<rect x="164.3" y="213.2" width="65.89999999999998" height="66.0" fill="#fff" stroke="#000" stroke-width="1.1"/>
<text x="171.1536" y="285.2" font-size="4.2" text-anchor="middle" font-weight="normal" fill="#333">0</text>
<text x="178.4685" y="285.2" font-size="4.2" text-anchor="middle" font-weight="normal" fill="#333">10²</text>
<text x="193.955" y="285.2" font-size="4.2" text-anchor="middle" font-weight="normal" fill="#333">10³</text>
<text x="209.6392" y="285.2" font-size="4.2" text-anchor="middle" font-weight="normal" fill="#333">10⁴</text>
<text x="224.4667" y="285.2" font-size="4.2" text-anchor="middle" font-weight="normal" fill="#333">10⁵</text>
<rect x="232.2" y="213.2" width="66.80000000000001" height="66.0" fill="#fff" stroke="#000" stroke-width="1.1"/>
<text x="239.1472" y="285.2" font-size="4.2" text-anchor="middle" font-weight="normal" fill="#333">0</text>
<text x="246.56199999999998" y="285.2" font-size="4.2" text-anchor="middle" font-weight="normal" fill="#333">10²</text>
<text x="262.26" y="285.2" font-size="4.2" text-anchor="middle" font-weight="normal" fill="#333">10³</text>
<text x="278.1584" y="285.2" font-size="4.2" text-anchor="middle" font-weight="normal" fill="#333">10⁴</text>
<text x="293.1884" y="285.2" font-size="4.2" text-anchor="middle" font-weight="normal" fill="#333">10⁵</text>
<rect x="301.5" y="213.2" width="66.39999999999998" height="66.0" fill="#fff" stroke="#000" stroke-width="1.1"/>
<text x="308.4056" y="285.2" font-size="4.2" text-anchor="middle" font-weight="normal" fill="#333">0</text>
<text x="315.776" y="285.2" font-size="4.2" text-anchor="middle" font-weight="normal" fill="#333">10²</text>
<text x="331.38" y="285.2" font-size="4.2" text-anchor="middle" font-weight="normal" fill="#333">10³</text>
<text x="347.1832" y="285.2" font-size="4.2" text-anchor="middle" font-weight="normal" fill="#333">10⁴</text>
<text x="362.1232" y="285.2" font-size="4.2" text-anchor="middle" font-weight="normal" fill="#333">10⁵</text>
<text x="25.700000000000003" y="217.7" font-size="5.4" text-anchor="end" font-weight="bold" fill="#000" stroke="#000" stroke-width="0.3" stroke-linejoin="round">100</text>
<line x1="26.400000000000002" y1="215.79999999999998" x2="27.6" y2="215.79999999999998" stroke="#000" stroke-width="0.8"/>
<text x="25.700000000000003" y="230.22" font-size="5.4" text-anchor="end" font-weight="bold" fill="#000" stroke="#000" stroke-width="0.3" stroke-linejoin="round">80</text>
<line x1="26.400000000000002" y1="228.32" x2="27.6" y2="228.32" stroke="#000" stroke-width="0.8"/>
<text x="25.700000000000003" y="242.73999999999998" font-size="5.4" text-anchor="end" font-weight="bold" fill="#000" stroke="#000" stroke-width="0.3" stroke-linejoin="round">60</text>
<line x1="26.400000000000002" y1="240.83999999999997" x2="27.6" y2="240.83999999999997" stroke="#000" stroke-width="0.8"/>
<text x="25.700000000000003" y="255.26" font-size="5.4" text-anchor="end" font-weight="bold" fill="#000" stroke="#000" stroke-width="0.3" stroke-linejoin="round">40</text>
<line x1="26.400000000000002" y1="253.35999999999999" x2="27.6" y2="253.35999999999999" stroke="#000" stroke-width="0.8"/>
<text x="25.700000000000003" y="267.78" font-size="5.4" text-anchor="end" font-weight="bold" fill="#000" stroke="#000" stroke-width="0.3" stroke-linejoin="round">20</text>
<line x1="26.400000000000002" y1="265.88" x2="27.6" y2="265.88" stroke="#000" stroke-width="0.8"/>
<text x="25.700000000000003" y="280.29999999999995" font-size="5.4" text-anchor="end" font-weight="bold" fill="#000" stroke="#000" stroke-width="0.3" stroke-linejoin="round">0</text>
<line x1="26.400000000000002" y1="278.4" x2="27.6" y2="278.4" stroke="#000" stroke-width="0.8"/>
<rect x="94.4" y="304.1" width="3.5" height="64.70000000000002" fill="#666"/>
<rect x="163.2" y="304.1" width="2.3000000000000114" height="64.70000000000002" fill="#c0c0c0"/>
<rect x="231.2" y="304.1" width="2.700000000000017" height="64.70000000000002" fill="#666"/>
<rect x="299.4" y="304.1" width="2.5" height="64.70000000000002" fill="#555"/>
<rect x="28.4" y="303.5" width="66.0" height="65.30000000000001" fill="#fff" stroke="#000" stroke-width="1.1"/>
<text x="34.406" y="374.8" font-size="4.2" text-anchor="middle" font-weight="normal" fill="#333">0</text>
<text x="40.147999999999996" y="374.8" font-size="4.2" text-anchor="middle" font-weight="normal" fill="#333">10²</text>
<text x="54.14" y="374.8" font-size="4.2" text-anchor="middle" font-weight="normal" fill="#333">10³</text>
<text x="71.102" y="374.8" font-size="4.2" text-anchor="middle" font-weight="normal" fill="#333">10⁴</text>
<text x="87.536" y="374.8" font-size="4.2" text-anchor="middle" font-weight="normal" fill="#333">10⁵</text>
<rect x="97.9" y="303.5" width="65.29999999999998" height="65.30000000000001" fill="#fff" stroke="#000" stroke-width="1.1"/>
<text x="103.84230000000001" y="374.8" font-size="4.2" text-anchor="middle" font-weight="normal" fill="#333">0</text>
<text x="109.52340000000001" y="374.8" font-size="4.2" text-anchor="middle" font-weight="normal" fill="#333">10²</text>
<text x="123.367" y="374.8" font-size="4.2" text-anchor="middle" font-weight="normal" fill="#333">10³</text>
<text x="140.1491" y="374.8" font-size="4.2" text-anchor="middle" font-weight="normal" fill="#333">10⁴</text>
<text x="156.40879999999999" y="374.8" font-size="4.2" text-anchor="middle" font-weight="normal" fill="#333">10⁵</text>
<rect x="165.5" y="303.5" width="65.69999999999999" height="65.30000000000001" fill="#fff" stroke="#000" stroke-width="1.1"/>
<text x="171.4787" y="374.8" font-size="4.2" text-anchor="middle" font-weight="normal" fill="#333">0</text>
<text x="177.1946" y="374.8" font-size="4.2" text-anchor="middle" font-weight="normal" fill="#333">10²</text>
<text x="191.123" y="374.8" font-size="4.2" text-anchor="middle" font-weight="normal" fill="#333">10³</text>
<text x="208.0079" y="374.8" font-size="4.2" text-anchor="middle" font-weight="normal" fill="#333">10⁴</text>
<text x="224.3672" y="374.8" font-size="4.2" text-anchor="middle" font-weight="normal" fill="#333">10⁵</text>
<rect x="233.9" y="303.5" width="65.49999999999997" height="65.30000000000001" fill="#fff" stroke="#000" stroke-width="1.1"/>
<text x="239.8605" y="374.8" font-size="4.2" text-anchor="middle" font-weight="normal" fill="#333">0</text>
<text x="245.559" y="374.8" font-size="4.2" text-anchor="middle" font-weight="normal" fill="#333">10²</text>
<text x="259.445" y="374.8" font-size="4.2" text-anchor="middle" font-weight="normal" fill="#333">10³</text>
<text x="276.2785" y="374.8" font-size="4.2" text-anchor="middle" font-weight="normal" fill="#333">10⁴</text>
<text x="292.58799999999997" y="374.8" font-size="4.2" text-anchor="middle" font-weight="normal" fill="#333">10⁵</text>
<rect x="301.9" y="303.5" width="66.40000000000003" height="65.30000000000001" fill="#fff" stroke="#000" stroke-width="1.1"/>
<text x="307.94239999999996" y="374.8" font-size="4.2" text-anchor="middle" font-weight="normal" fill="#333">0</text>
<text x="313.7192" y="374.8" font-size="4.2" text-anchor="middle" font-weight="normal" fill="#333">10²</text>
<text x="327.796" y="374.8" font-size="4.2" text-anchor="middle" font-weight="normal" fill="#333">10³</text>
<text x="344.8608" y="374.8" font-size="4.2" text-anchor="middle" font-weight="normal" fill="#333">10⁴</text>
<text x="361.3944" y="374.8" font-size="4.2" text-anchor="middle" font-weight="normal" fill="#333">10⁵</text>
<text x="26.5" y="308.0" font-size="5.4" text-anchor="end" font-weight="bold" fill="#000" stroke="#000" stroke-width="0.3" stroke-linejoin="round">100</text>
<line x1="27.2" y1="306.1" x2="28.4" y2="306.1" stroke="#000" stroke-width="0.8"/>
<text x="26.5" y="320.38" font-size="5.4" text-anchor="end" font-weight="bold" fill="#000" stroke="#000" stroke-width="0.3" stroke-linejoin="round">80</text>
<line x1="27.2" y1="318.48" x2="28.4" y2="318.48" stroke="#000" stroke-width="0.8"/>
<text x="26.5" y="332.76" font-size="5.4" text-anchor="end" font-weight="bold" fill="#000" stroke="#000" stroke-width="0.3" stroke-linejoin="round">60</text>
<line x1="27.2" y1="330.86" x2="28.4" y2="330.86" stroke="#000" stroke-width="0.8"/>
<text x="26.5" y="345.14" font-size="5.4" text-anchor="end" font-weight="bold" fill="#000" stroke="#000" stroke-width="0.3" stroke-linejoin="round">40</text>
<line x1="27.2" y1="343.24" x2="28.4" y2="343.24" stroke="#000" stroke-width="0.8"/>
<text x="26.5" y="357.52" font-size="5.4" text-anchor="end" font-weight="bold" fill="#000" stroke="#000" stroke-width="0.3" stroke-linejoin="round">20</text>
<line x1="27.2" y1="355.62" x2="28.4" y2="355.62" stroke="#000" stroke-width="0.8"/>
<text x="26.5" y="369.90000000000003" font-size="5.4" text-anchor="end" font-weight="bold" fill="#000" stroke="#000" stroke-width="0.3" stroke-linejoin="round">0</text>
<line x1="27.2" y1="368.00000000000006" x2="28.4" y2="368.00000000000006" stroke="#000" stroke-width="0.8"/>
<path d="M31.30,279.00 L31.67,278.61 L32.19,278.09 L32.77,277.16 L33.30,275.50 L33.74,273.12 L34.16,270.16 L34.58,266.49 L35.00,262.00 L35.44,256.20 L35.89,249.31 L36.35,242.26 L36.80,236.00 L37.25,230.24 L37.71,224.65 L38.16,220.14 L38.60,217.60 L39.03,217.61 L39.46,219.59 L39.88,222.67 L40.30,226.00 L40.73,229.74 L41.17,234.21 L41.60,238.83 L42.00,243.00 L42.36,246.64 L42.69,250.03 L43.03,253.16 L43.40,256.00 L43.82,258.56 L44.28,260.84 L44.74,262.83 L45.20,264.50 L45.65,265.77 L46.11,266.68 L46.56,267.38 L47.00,268.00 L47.40,268.56 L47.76,268.98 L48.15,269.31 L48.60,269.60 L49.14,269.82 L49.73,269.96 L50.36,270.07 L51.00,270.20 L51.66,270.31 L52.36,270.40 L53.05,270.54 L53.70,270.80 L54.31,271.24 L54.89,271.81 L55.46,272.43 L56.00,273.00 L56.51,273.51 L56.99,273.99 L57.47,274.48 L58.00,275.00 L58.60,275.58 L59.25,276.19 L59.90,276.79 L60.50,277.30 L61.00,277.72 L61.44,278.07 L61.91,278.36 L62.50,278.60 L63.02,278.77 L63.50,278.88 L64.35,278.95 L66.00,279.00 L69.09,279.03 L73.22,279.02 L77.24,279.01 L80.00,279.00 Z" fill="#ececec" stroke-linejoin="round" stroke-linecap="round"/>
<path d="M31.30,279.00 L31.67,278.61 L32.19,278.09 L32.77,277.16 L33.30,275.50 L33.74,273.12 L34.16,270.16 L34.58,266.49 L35.00,262.00 L35.44,256.20 L35.89,249.31 L36.35,242.26 L36.80,236.00 L37.25,230.24 L37.71,224.65 L38.16,220.14 L38.60,217.60 L39.03,217.61 L39.46,219.59 L39.88,222.67 L40.30,226.00 L40.73,229.74 L41.17,234.21 L41.60,238.83 L42.00,243.00 L42.36,246.64 L42.69,250.03 L43.03,253.16 L43.40,256.00 L43.82,258.56 L44.28,260.84 L44.74,262.83 L45.20,264.50 L45.65,265.77 L46.11,266.68 L46.56,267.38 L47.00,268.00 L47.40,268.56 L47.76,268.98 L48.15,269.31 L48.60,269.60 L49.14,269.82 L49.73,269.96 L50.36,270.07 L51.00,270.20 L51.66,270.31 L52.36,270.40 L53.05,270.54 L53.70,270.80 L54.31,271.24 L54.89,271.81 L55.46,272.43 L56.00,273.00 L56.51,273.51 L56.99,273.99 L57.47,274.48 L58.00,275.00 L58.60,275.58 L59.25,276.19 L59.90,276.79 L60.50,277.30 L61.00,277.72 L61.44,278.07 L61.91,278.36 L62.50,278.60 L63.02,278.77 L63.50,278.88 L64.35,278.95 L66.00,279.00 L69.09,279.03 L73.22,279.02 L77.24,279.01 L80.00,279.00" fill="none" stroke="#000" stroke-width="1.15" stroke-linejoin="round" stroke-linecap="round"/>
<path d="M100.00,279.00 L100.54,277.67 L101.31,275.75 L102.18,273.70 L103.00,272.00 L103.73,270.71 L104.44,269.59 L105.18,268.68 L106.00,268.00 L106.91,267.58 L107.88,267.41 L108.91,267.40 L110.00,267.50 L111.16,267.70 L112.38,268.03 L113.66,268.47 L115.00,269.00 L116.43,269.62 L117.94,270.34 L119.48,271.14 L121.00,272.00 L122.52,272.95 L124.06,274.00 L125.57,275.05 L127.00,276.00 L128.44,276.89 L129.88,277.75 L131.12,278.48 L132.00,279.00 Z" fill="#f1f1f1" stroke-linejoin="round" stroke-linecap="round"/>
<path d="M100.60,279.00 L100.94,276.25 L101.44,272.38 L101.99,267.56 L102.50,262.00 L102.96,255.05 L103.41,246.85 L103.86,238.72 L104.30,232.00 L104.73,226.72 L105.15,222.29 L105.57,219.06 L106.00,217.40 L106.44,217.85 L106.89,220.06 L107.34,223.10 L107.80,226.00 L108.27,229.14 L108.75,232.81 L109.23,235.98 L109.70,237.60 L110.16,236.97 L110.61,234.79 L111.05,232.12 L111.50,230.00 L111.95,228.40 L112.39,226.86 L112.84,225.81 L113.30,225.70 L113.76,227.27 L114.22,230.08 L114.69,232.78 L115.20,234.00 L115.75,233.12 L116.33,230.94 L116.92,228.30 L117.50,226.00 L118.08,223.94 L118.67,221.80 L119.25,220.06 L119.80,219.20 L120.33,219.46 L120.84,220.55 L121.33,222.16 L121.80,224.00 L122.25,226.16 L122.68,228.74 L123.10,231.45 L123.50,234.00 L123.90,236.36 L124.28,238.66 L124.65,240.88 L125.00,243.00 L125.30,244.85 L125.58,246.51 L125.86,248.28 L126.20,250.50 L126.63,253.45 L127.11,256.88 L127.61,260.35 L128.10,263.40 L128.56,265.89 L129.01,268.07 L129.48,270.06 L130.00,272.00 L130.64,274.03 L131.37,276.04 L132.04,277.78 L132.50,279.00" fill="none" stroke="#b4b4b4" stroke-width="0.9" stroke-linejoin="round" stroke-linecap="round"/>
<path d="M99.60,279.00 L99.72,279.02 L99.88,279.06 L100.10,278.95 L100.40,278.50 L100.80,277.60 L101.29,276.37 L101.81,274.95 L102.30,273.50 L102.75,271.96 L103.20,270.27 L103.65,268.61 L104.10,267.10 L104.57,265.67 L105.05,264.29 L105.53,263.16 L106.00,262.50 L106.47,262.60 L106.93,263.27 L107.38,264.00 L107.80,264.30 L108.18,263.92 L108.52,263.18 L108.86,262.36 L109.20,261.80 L109.54,261.67 L109.88,261.78 L110.22,261.84 L110.60,261.60 L111.02,261.05 L111.47,260.31 L111.93,259.29 L112.40,257.90 L112.87,256.03 L113.35,253.76 L113.83,251.26 L114.30,248.70 L114.75,246.01 L115.20,243.15 L115.65,240.29 L116.10,237.60 L116.58,235.12 L117.07,232.77 L117.55,230.53 L118.00,228.40 L118.41,226.33 L118.79,224.33 L119.16,222.52 L119.50,221.00 L119.82,219.73 L120.11,218.68 L120.40,217.96 L120.70,217.70 L121.01,217.96 L121.33,218.68 L121.66,219.73 L122.00,221.00 L122.33,222.30 L122.66,223.76 L123.04,225.68 L123.50,228.40 L124.11,232.31 L124.83,237.14 L125.55,242.20 L126.20,246.80 L126.73,250.88 L127.21,254.78 L127.65,258.38 L128.10,261.60 L128.53,264.36 L128.94,266.73 L129.38,268.83 L129.90,270.80 L130.51,272.70 L131.18,274.46 L131.91,275.99 L132.70,277.20 L133.33,278.02 L133.88,278.50 L134.76,278.78 L136.40,279.00 L139.42,279.13 L143.43,279.11 L147.32,279.04 L150.00,279.00" fill="none" stroke="#000" stroke-width="1.15" stroke-linejoin="round" stroke-linecap="round"/>
<path d="M170.00,279.00 L170.52,277.88 L171.25,276.25 L172.11,274.50 L173.00,273.00 L173.91,271.80 L174.88,270.72 L175.91,269.78 L177.00,269.00 L178.16,268.39 L179.38,267.94 L180.66,267.64 L182.00,267.50 L183.43,267.52 L184.94,267.69 L186.48,268.02 L188.00,268.50 L189.52,269.18 L191.06,270.03 L192.57,271.00 L194.00,272.00 L195.37,273.10 L196.69,274.31 L197.91,275.49 L199.00,276.50 L199.96,277.32 L200.81,278.03 L201.51,278.60 L202.00,279.00 Z" fill="#f1f1f1" stroke-linejoin="round" stroke-linecap="round"/>
<path d="M169.40,279.00 L169.72,276.50 L170.19,272.90 L170.71,268.90 L171.20,265.20 L171.65,261.93 L172.09,258.74 L172.54,255.58 L173.00,252.40 L173.45,249.01 L173.89,245.49 L174.36,242.21 L174.90,239.50 L175.56,237.59 L176.31,236.24 L177.05,235.15 L177.70,234.00 L178.24,232.59 L178.72,231.13 L179.14,229.93 L179.50,229.30 L179.74,229.71 L179.89,230.87 L180.06,231.94 L180.40,232.10 L180.99,230.96 L181.74,229.03 L182.53,226.78 L183.20,224.70 L183.72,222.53 L184.16,220.13 L184.57,218.20 L185.00,217.40 L185.48,218.25 L185.98,220.26 L186.46,222.67 L186.90,224.70 L187.26,226.55 L187.56,228.49 L187.85,229.87 L188.20,230.00 L188.62,227.96 L189.09,224.36 L189.56,220.82 L190.00,219.00 L190.40,219.71 L190.77,221.96 L191.14,224.63 L191.50,226.60 L191.86,227.38 L192.21,227.62 L192.56,227.95 L192.90,229.00 L193.22,230.96 L193.52,233.48 L193.84,236.39 L194.20,239.50 L194.64,242.97 L195.12,246.82 L195.62,250.69 L196.10,254.20 L196.55,257.27 L197.00,260.10 L197.45,262.73 L197.90,265.20 L198.36,267.53 L198.83,269.69 L199.30,271.69 L199.80,273.50 L200.38,275.20 L201.02,276.77 L201.60,278.08 L202.00,279.00" fill="none" stroke="#b4b4b4" stroke-width="0.9" stroke-linejoin="round" stroke-linecap="round"/>
<path d="M169.40,279.00 L169.88,277.95 L170.57,276.42 L171.35,274.81 L172.10,273.50 L172.79,272.67 L173.49,272.09 L174.20,271.54 L174.90,270.80 L175.62,269.78 L176.36,268.62 L177.07,267.39 L177.70,266.20 L178.22,265.16 L178.66,264.19 L179.07,263.07 L179.50,261.60 L179.95,259.58 L180.39,257.18 L180.84,254.68 L181.30,252.40 L181.77,250.51 L182.25,248.81 L182.73,247.06 L183.20,245.00 L183.65,242.38 L184.10,239.39 L184.55,236.45 L185.00,234.00 L185.48,232.00 L185.98,230.28 L186.46,229.02 L186.90,228.40 L187.26,229.10 L187.56,230.80 L187.85,232.23 L188.20,232.10 L188.62,229.23 L189.09,224.57 L189.56,220.09 L190.00,217.70 L190.40,218.45 L190.77,221.14 L191.14,224.33 L191.50,226.60 L191.86,227.33 L192.21,227.36 L192.56,227.46 L192.90,228.40 L193.22,230.44 L193.52,233.14 L193.84,236.25 L194.20,239.50 L194.64,243.01 L195.12,246.86 L195.62,250.70 L196.10,254.20 L196.55,257.27 L197.00,260.10 L197.45,262.73 L197.90,265.20 L198.35,267.57 L198.79,269.81 L199.27,271.81 L199.80,273.50 L200.42,274.79 L201.11,275.76 L201.82,276.52 L202.50,277.20 L202.96,277.83 L203.29,278.33 L203.85,278.72 L205.00,279.00 L207.21,279.13 L210.16,279.11 L213.03,279.04 L215.00,279.00" fill="none" stroke="#000" stroke-width="1.15" stroke-linejoin="round" stroke-linecap="round"/>
<path d="M236.50,279.00 L236.94,277.67 L237.56,275.75 L238.28,273.70 L239.00,272.00 L239.64,270.72 L240.28,269.62 L241.03,268.72 L242.00,268.00 L243.29,267.45 L244.81,267.06 L246.43,266.90 L248.00,267.00 L249.50,267.45 L251.00,268.19 L252.50,269.09 L254.00,270.00 L255.50,270.94 L257.00,271.97 L258.50,273.01 L260.00,274.00 L261.55,274.96 L263.12,275.91 L264.64,276.78 L266.00,277.50 L267.23,278.05 L268.38,278.47 L269.33,278.78 L270.00,279.00 Z" fill="#f1f1f1" stroke-linejoin="round" stroke-linecap="round"/>
<path d="M237.80,279.00 L238.20,275.90 L238.78,271.45 L239.41,266.52 L240.00,262.00 L240.50,257.93 L240.97,253.91 L241.46,250.14 L242.00,246.80 L242.64,243.99 L243.36,241.60 L244.06,239.51 L244.70,237.60 L245.22,235.93 L245.67,234.54 L246.11,233.27 L246.60,232.00 L247.17,230.71 L247.78,229.46 L248.40,228.24 L249.00,227.00 L249.55,225.72 L250.08,224.42 L250.61,223.16 L251.20,222.00 L251.86,220.92 L252.57,219.91 L253.29,219.01 L254.00,218.30 L254.70,217.70 L255.41,217.22 L256.09,217.00 L256.70,217.20 L257.20,217.86 L257.63,218.91 L258.04,220.30 L258.50,222.00 L259.02,223.95 L259.57,226.18 L260.13,228.82 L260.70,232.00 L261.26,236.01 L261.83,240.69 L262.41,245.52 L263.00,250.00 L263.61,254.08 L264.24,258.00 L264.87,261.67 L265.50,265.00 L266.11,267.99 L266.72,270.69 L267.34,273.04 L268.00,275.00 L268.79,276.52 L269.66,277.62 L270.45,278.42 L271.00,279.00" fill="none" stroke="#b4b4b4" stroke-width="0.9" stroke-linejoin="round" stroke-linecap="round"/>
<path d="M240.10,279.00 L240.63,277.33 L241.38,274.91 L242.22,272.29 L243.00,270.00 L243.69,268.20 L244.36,266.60 L245.03,265.05 L245.70,263.40 L246.37,261.74 L247.04,260.09 L247.72,258.26 L248.40,256.00 L249.12,253.07 L249.86,249.66 L250.57,246.19 L251.20,243.10 L251.72,240.56 L252.16,238.32 L252.57,236.20 L253.00,234.00 L253.47,231.64 L253.95,229.24 L254.43,226.89 L254.90,224.70 L255.33,222.43 L255.74,220.12 L256.18,218.28 L256.70,217.40 L257.33,217.70 L258.04,218.89 L258.78,220.70 L259.50,222.90 L260.20,225.60 L260.91,228.89 L261.58,232.40 L262.20,235.80 L262.73,238.94 L263.21,242.03 L263.65,245.22 L264.10,248.70 L264.55,252.76 L265.00,257.24 L265.45,261.57 L265.90,265.20 L266.35,267.96 L266.79,270.15 L267.27,271.94 L267.80,273.50 L268.42,274.79 L269.11,275.76 L269.82,276.52 L270.50,277.20 L270.92,277.83 L271.17,278.33 L271.71,278.72 L273.00,279.00 L275.61,279.13 L279.16,279.11 L282.62,279.04 L285.00,279.00" fill="none" stroke="#000" stroke-width="1.15" stroke-linejoin="round" stroke-linecap="round"/>
<rect x="308.3" y="214" width="2.8" height="65" fill="#ececec"/>
<path d="M308.30,279.00 L308.60,277.82 L309.03,276.15 L309.51,274.15 L310.00,272.00 L310.46,269.74 L310.94,267.29 L311.44,264.59 L312.00,261.60 L312.62,258.12 L313.30,254.24 L314.00,250.34 L314.70,246.80 L315.39,243.74 L316.09,240.95 L316.80,238.33 L317.50,235.80 L318.21,233.35 L318.94,231.03 L319.64,228.79 L320.30,226.60 L320.90,224.28 L321.46,221.92 L321.99,219.82 L322.50,218.30 L322.98,217.47 L323.43,217.16 L323.87,217.24 L324.30,217.60 L324.74,218.35 L325.17,219.51 L325.59,220.81 L326.00,222.00 L326.38,222.76 L326.73,223.32 L327.09,224.21 L327.50,226.00 L327.95,228.96 L328.43,232.75 L328.94,236.99 L329.50,241.30 L330.12,245.81 L330.80,250.65 L331.50,255.41 L332.20,259.70 L332.89,263.46 L333.58,266.90 L334.28,269.96 L335.00,272.60 L335.81,274.81 L336.68,276.61 L337.46,278.00 L338.00,279.00" fill="none" stroke="#b4b4b4" stroke-width="0.9" stroke-linejoin="round" stroke-linecap="round"/>
<path d="M307.40,279.00 L307.88,278.17 L308.57,276.98 L309.35,275.67 L310.10,274.50 L310.79,273.69 L311.49,273.06 L312.20,272.23 L312.90,270.80 L313.62,268.59 L314.36,265.83 L315.07,262.78 L315.70,259.70 L316.22,256.56 L316.66,253.24 L317.07,249.93 L317.50,246.80 L317.95,243.83 L318.39,240.96 L318.84,238.25 L319.30,235.80 L319.77,233.70 L320.25,231.88 L320.73,230.17 L321.20,228.40 L321.67,226.46 L322.14,224.46 L322.59,222.58 L323.00,221.00 L323.36,219.64 L323.67,218.45 L323.97,217.63 L324.30,217.40 L324.66,218.04 L325.04,219.36 L325.42,220.85 L325.80,222.00 L326.18,222.54 L326.57,222.78 L326.95,223.09 L327.30,223.80 L327.60,224.95 L327.88,226.36 L328.16,228.12 L328.50,230.30 L328.93,233.05 L329.41,236.30 L329.92,239.75 L330.40,243.10 L330.85,246.36 L331.30,249.66 L331.75,252.90 L332.20,256.00 L332.65,258.99 L333.09,261.89 L333.57,264.63 L334.10,267.10 L334.72,269.32 L335.39,271.33 L336.10,273.07 L336.80,274.50 L337.50,275.53 L338.22,276.20 L338.93,276.70 L339.60,277.20 L340.10,277.76 L340.48,278.27 L341.02,278.70 L342.00,279.00 L343.79,279.13 L346.15,279.11 L348.43,279.04 L350.00,279.00" fill="none" stroke="#000" stroke-width="1.15" stroke-linejoin="round" stroke-linecap="round"/>
<path d="M33.80,368.30 L34.22,366.95 L34.83,365.01 L35.50,362.84 L36.10,360.80 L36.61,358.86 L37.08,356.86 L37.54,354.99 L38.00,353.40 L38.45,352.21 L38.90,351.32 L39.35,350.54 L39.80,349.70 L40.27,348.90 L40.75,348.19 L41.23,347.31 L41.70,346.00 L42.16,344.22 L42.61,342.09 L43.05,339.62 L43.50,336.80 L43.95,333.27 L44.39,329.16 L44.84,325.19 L45.30,322.10 L45.77,320.31 L46.25,319.34 L46.73,318.61 L47.20,317.50 L47.67,315.73 L48.14,313.66 L48.59,311.66 L49.00,310.10 L49.35,309.01 L49.64,308.23 L49.94,307.78 L50.30,307.70 L50.74,307.98 L51.22,308.62 L51.72,309.62 L52.20,311.00 L52.66,312.86 L53.11,315.17 L53.55,317.71 L54.00,320.30 L54.44,322.84 L54.86,325.46 L55.31,328.25 L55.80,331.30 L56.35,334.76 L56.94,338.53 L57.56,342.36 L58.20,346.00 L58.87,349.50 L59.58,352.96 L60.29,356.17 L61.00,358.90 L61.69,361.06 L62.37,362.77 L63.07,364.18 L63.80,365.40 L64.11,366.45 L64.14,367.26 L64.80,367.86 L67.00,368.30 L71.90,368.50 L78.70,368.48 L85.40,368.37 L90.00,368.30 Z" fill="#ebebeb" stroke-linejoin="round" stroke-linecap="round"/>
<path d="M33.80,368.30 L34.22,366.95 L34.83,365.01 L35.50,362.84 L36.10,360.80 L36.61,358.86 L37.08,356.86 L37.54,354.99 L38.00,353.40 L38.45,352.21 L38.90,351.32 L39.35,350.54 L39.80,349.70 L40.27,348.90 L40.75,348.19 L41.23,347.31 L41.70,346.00 L42.16,344.22 L42.61,342.09 L43.05,339.62 L43.50,336.80 L43.95,333.27 L44.39,329.16 L44.84,325.19 L45.30,322.10 L45.77,320.31 L46.25,319.34 L46.73,318.61 L47.20,317.50 L47.67,315.73 L48.14,313.66 L48.59,311.66 L49.00,310.10 L49.35,309.01 L49.64,308.23 L49.94,307.78 L50.30,307.70 L50.74,307.98 L51.22,308.62 L51.72,309.62 L52.20,311.00 L52.66,312.86 L53.11,315.17 L53.55,317.71 L54.00,320.30 L54.44,322.84 L54.86,325.46 L55.31,328.25 L55.80,331.30 L56.35,334.76 L56.94,338.53 L57.56,342.36 L58.20,346.00 L58.87,349.50 L59.58,352.96 L60.29,356.17 L61.00,358.90 L61.69,361.06 L62.37,362.77 L63.07,364.18 L63.80,365.40 L64.11,366.45 L64.14,367.26 L64.80,367.86 L67.00,368.30 L71.90,368.50 L78.70,368.48 L85.40,368.37 L90.00,368.30" fill="none" stroke="#000" stroke-width="1.15" stroke-linejoin="round" stroke-linecap="round"/>
<path d="M104.30,368.30 L104.78,367.35 L105.47,366.03 L106.25,364.27 L107.00,362.00 L107.71,358.90 L108.45,355.11 L109.16,351.24 L109.80,347.90 L110.34,345.28 L110.81,343.05 L111.25,341.02 L111.70,339.00 L112.16,336.98 L112.61,335.05 L113.05,333.17 L113.50,331.30 L113.95,329.47 L114.39,327.69 L114.84,325.89 L115.30,324.00 L115.77,321.91 L116.25,319.69 L116.73,317.55 L117.20,315.70 L117.65,314.23 L118.10,313.00 L118.55,311.95 L119.00,311.00 L119.48,310.07 L119.97,309.22 L120.46,308.58 L120.90,308.30 L121.29,308.46 L121.64,308.97 L121.97,309.69 L122.30,310.50 L122.62,311.21 L122.92,311.93 L123.24,312.99 L123.60,314.70 L124.04,317.51 L124.54,321.14 L125.04,324.77 L125.50,327.60 L125.91,329.29 L126.29,330.31 L126.66,331.07 L127.00,332.00 L127.31,332.98 L127.58,333.87 L127.86,335.02 L128.20,336.80 L128.58,339.46 L129.00,342.74 L129.47,346.29 L130.00,349.70 L130.62,353.09 L131.32,356.60 L132.06,359.88 L132.80,362.60 L133.27,364.66 L133.59,366.26 L134.26,367.44 L135.80,368.30 L138.90,368.70 L143.09,368.66 L147.19,368.43 L150.00,368.30 Z" fill="#ebebeb" stroke-linejoin="round" stroke-linecap="round"/>
<path d="M104.80,368.70 L105.28,367.75 L105.97,366.43 L106.75,364.67 L107.50,362.40 L108.21,359.30 L108.95,355.51 L109.66,351.64 L110.30,348.30 L110.84,345.68 L111.31,343.45 L111.75,341.42 L112.20,339.40 L112.66,337.38 L113.11,335.45 L113.55,333.57 L114.00,331.70 L114.45,329.87 L114.89,328.09 L115.34,326.29 L115.80,324.40 L116.27,322.31 L116.75,320.09 L117.23,317.95 L117.70,316.10 L118.15,314.62 L118.60,313.40 L119.05,312.35 L119.50,311.40 L119.98,310.47 L120.47,309.62 L120.96,308.98 L121.40,308.70 L121.79,308.86 L122.14,309.37 L122.47,310.09 L122.80,310.90 L123.12,311.61 L123.42,312.33 L123.74,313.39 L124.10,315.10 L124.54,317.91 L125.04,321.54 L125.54,325.17 L126.00,328.00 L126.41,329.69 L126.79,330.71 L127.16,331.47 L127.50,332.40 L127.81,333.38 L128.08,334.27 L128.36,335.42 L128.70,337.20 L129.08,339.86 L129.50,343.14 L129.97,346.69 L130.50,350.10 L131.12,353.49 L131.82,357.00 L132.56,360.28 L133.30,363.00 L133.77,365.06 L134.09,366.66 L134.76,367.84 L136.30,368.70 L139.40,369.10 L143.59,369.06 L147.69,368.83 L150.50,368.70" fill="none" stroke="#b4b4b4" stroke-width="0.8" stroke-linejoin="round" stroke-linecap="round"/>
<path d="M104.30,368.30 L104.78,367.35 L105.47,366.03 L106.25,364.27 L107.00,362.00 L107.71,358.90 L108.45,355.11 L109.16,351.24 L109.80,347.90 L110.34,345.28 L110.81,343.05 L111.25,341.02 L111.70,339.00 L112.16,336.98 L112.61,335.05 L113.05,333.17 L113.50,331.30 L113.95,329.47 L114.39,327.69 L114.84,325.89 L115.30,324.00 L115.77,321.91 L116.25,319.69 L116.73,317.55 L117.20,315.70 L117.65,314.23 L118.10,313.00 L118.55,311.95 L119.00,311.00 L119.48,310.07 L119.97,309.22 L120.46,308.58 L120.90,308.30 L121.29,308.46 L121.64,308.97 L121.97,309.69 L122.30,310.50 L122.62,311.21 L122.92,311.93 L123.24,312.99 L123.60,314.70 L124.04,317.51 L124.54,321.14 L125.04,324.77 L125.50,327.60 L125.91,329.29 L126.29,330.31 L126.66,331.07 L127.00,332.00 L127.31,332.98 L127.58,333.87 L127.86,335.02 L128.20,336.80 L128.58,339.46 L129.00,342.74 L129.47,346.29 L130.00,349.70 L130.62,353.09 L131.32,356.60 L132.06,359.88 L132.80,362.60 L133.27,364.66 L133.59,366.26 L134.26,367.44 L135.80,368.30 L138.90,368.70 L143.09,368.66 L147.19,368.43 L150.00,368.30" fill="none" stroke="#000" stroke-width="1.15" stroke-linejoin="round" stroke-linecap="round"/>
<path d="M172.20,368.30 L172.89,366.95 L173.87,365.01 L174.97,362.84 L176.00,360.80 L176.95,359.03 L177.91,357.32 L178.84,355.50 L179.70,353.40 L180.46,350.93 L181.16,348.19 L181.82,345.30 L182.50,342.40 L183.22,339.43 L183.96,336.34 L184.67,333.29 L185.30,330.40 L185.80,327.72 L186.20,325.18 L186.60,322.72 L187.10,320.30 L187.74,317.76 L188.48,315.19 L189.22,312.84 L189.90,311.00 L190.49,309.65 L191.03,308.67 L191.55,308.18 L192.10,308.30 L192.70,309.15 L193.32,310.64 L193.94,312.56 L194.50,314.70 L194.99,317.06 L195.44,319.73 L195.86,322.66 L196.30,325.80 L196.73,329.22 L197.14,332.92 L197.58,336.74 L198.10,340.50 L198.73,344.30 L199.44,348.19 L200.18,351.90 L200.90,355.20 L201.60,358.03 L202.29,360.53 L202.99,362.69 L203.70,364.50 L204.22,365.93 L204.61,366.98 L205.27,367.75 L206.60,368.30 L209.12,368.57 L212.48,368.54 L215.75,368.39 L218.00,368.30 Z" fill="#ebebeb" stroke-linejoin="round" stroke-linecap="round"/>
<path d="M172.00,368.30 L172.27,366.40 L172.65,363.67 L173.08,360.68 L173.50,358.00 L173.86,355.61 L174.22,353.26 L174.61,351.21 L175.10,349.70 L175.72,348.95 L176.44,348.78 L177.19,348.84 L177.90,348.80 L178.58,348.71 L179.25,348.69 L179.90,348.54 L180.50,348.00 L181.02,347.09 L181.49,345.90 L181.96,344.36 L182.50,342.40 L183.17,339.81 L183.91,336.68 L184.65,333.42 L185.30,330.40 L185.80,327.72 L186.20,325.18 L186.60,322.72 L187.10,320.30 L187.74,317.76 L188.48,315.19 L189.22,312.84 L189.90,311.00 L190.49,309.65 L191.03,308.67 L191.55,308.18 L192.10,308.30 L192.74,309.41 L193.44,311.33 L194.06,313.34 L194.50,314.70" fill="none" stroke="#b4b4b4" stroke-width="0.8" stroke-linejoin="round" stroke-linecap="round"/>
<path d="M172.20,368.30 L172.89,366.95 L173.87,365.01 L174.97,362.84 L176.00,360.80 L176.95,359.03 L177.91,357.32 L178.84,355.50 L179.70,353.40 L180.46,350.93 L181.16,348.19 L181.82,345.30 L182.50,342.40 L183.22,339.43 L183.96,336.34 L184.67,333.29 L185.30,330.40 L185.80,327.72 L186.20,325.18 L186.60,322.72 L187.10,320.30 L187.74,317.76 L188.48,315.19 L189.22,312.84 L189.90,311.00 L190.49,309.65 L191.03,308.67 L191.55,308.18 L192.10,308.30 L192.70,309.15 L193.32,310.64 L193.94,312.56 L194.50,314.70 L194.99,317.06 L195.44,319.73 L195.86,322.66 L196.30,325.80 L196.73,329.22 L197.14,332.92 L197.58,336.74 L198.10,340.50 L198.73,344.30 L199.44,348.19 L200.18,351.90 L200.90,355.20 L201.60,358.03 L202.29,360.53 L202.99,362.69 L203.70,364.50 L204.22,365.93 L204.61,366.98 L205.27,367.75 L206.60,368.30 L209.12,368.57 L212.48,368.54 L215.75,368.39 L218.00,368.30" fill="none" stroke="#000" stroke-width="1.15" stroke-linejoin="round" stroke-linecap="round"/>
<path d="M240.30,368.30 L240.69,366.40 L241.25,363.67 L241.88,360.68 L242.50,358.00 L243.06,355.98 L243.61,354.24 L244.20,352.31 L244.90,349.70 L245.73,346.09 L246.67,341.80 L247.64,337.31 L248.60,333.10 L249.55,329.16 L250.51,325.29 L251.45,321.64 L252.30,318.40 L253.06,315.54 L253.76,312.99 L254.40,310.85 L255.00,309.20 L255.51,308.01 L255.96,307.25 L256.39,307.02 L256.90,307.40 L257.49,308.52 L258.14,310.30 L258.81,312.53 L259.50,315.00 L260.19,317.70 L260.88,320.74 L261.61,324.05 L262.40,327.60 L263.29,331.56 L264.26,335.88 L265.23,340.22 L266.10,344.20 L266.84,347.79 L267.51,351.17 L268.14,354.29 L268.80,357.10 L269.50,359.62 L270.22,361.88 L270.93,363.81 L271.60,365.40 L272.28,366.57 L272.98,367.37 L273.58,367.91 L274.00,368.30 Z" fill="#ebebeb" stroke-linejoin="round" stroke-linecap="round"/>
<path d="M240.30,368.30 L240.69,366.40 L241.25,363.67 L241.88,360.68 L242.50,358.00 L243.06,355.98 L243.61,354.24 L244.20,352.31 L244.90,349.70 L245.73,346.09 L246.67,341.80 L247.64,337.31 L248.60,333.10 L249.55,329.16 L250.51,325.29 L251.45,321.64 L252.30,318.40 L253.06,315.54 L253.76,312.99 L254.40,310.85 L255.00,309.20 L255.51,308.01 L255.96,307.25 L256.39,307.02 L256.90,307.40 L257.49,308.52 L258.14,310.30 L258.81,312.53 L259.50,315.00 L260.19,317.70 L260.88,320.74 L261.61,324.05 L262.40,327.60 L263.29,331.56 L264.26,335.88 L265.23,340.22 L266.10,344.20 L266.84,347.79 L267.51,351.17 L268.14,354.29 L268.80,357.10 L269.50,359.62 L270.22,361.88 L270.93,363.81 L271.60,365.40 L272.28,366.57 L272.98,367.37 L273.58,367.91 L274.00,368.30" fill="none" stroke="#b4b4b4" stroke-width="0.8" stroke-linejoin="round" stroke-linecap="round"/>
<path d="M241.20,368.30 L241.89,366.95 L242.88,365.01 L243.95,362.84 L244.90,360.80 L245.67,359.03 L246.36,357.32 L247.03,355.50 L247.70,353.40 L248.38,350.95 L249.05,348.24 L249.72,345.37 L250.40,342.40 L251.12,339.22 L251.86,335.84 L252.57,332.51 L253.20,329.50 L253.72,326.90 L254.16,324.56 L254.57,322.39 L255.00,320.30 L255.47,318.28 L255.95,316.37 L256.43,314.57 L256.90,312.90 L257.36,311.03 L257.81,309.06 L258.25,307.63 L258.70,307.40 L259.15,308.87 L259.59,311.59 L260.04,314.74 L260.50,317.50 L260.97,319.64 L261.45,321.59 L261.93,323.58 L262.40,325.80 L262.83,328.32 L263.24,331.01 L263.68,333.85 L264.20,336.80 L264.83,339.93 L265.54,343.24 L266.28,346.56 L267.00,349.70 L267.70,352.72 L268.41,355.69 L269.11,358.43 L269.80,360.80 L270.49,362.74 L271.17,364.34 L271.84,365.65 L272.50,366.70 L272.96,367.44 L273.29,367.87 L273.85,368.11 L275.00,368.30 L277.21,368.41 L280.16,368.40 L283.03,368.34 L285.00,368.30" fill="none" stroke="#000" stroke-width="1.15" stroke-linejoin="round" stroke-linecap="round"/>
<path d="M308.30,368.30 L308.69,366.49 L309.25,363.90 L309.88,360.94 L310.50,358.00 L311.08,355.14 L311.66,352.16 L312.27,349.10 L312.90,346.00 L313.60,342.79 L314.34,339.49 L315.06,336.21 L315.70,333.10 L316.22,330.22 L316.66,327.49 L317.07,324.81 L317.50,322.10 L317.96,319.16 L318.43,316.09 L318.89,313.25 L319.30,311.00 L319.63,309.43 L319.91,308.34 L320.21,307.68 L320.60,307.40 L321.11,307.50 L321.71,308.01 L322.35,308.88 L323.00,310.10 L323.67,311.67 L324.38,313.61 L325.10,315.87 L325.80,318.40 L326.48,321.26 L327.15,324.45 L327.82,327.84 L328.50,331.30 L329.19,334.89 L329.89,338.65 L330.60,342.41 L331.30,346.00 L332.00,349.50 L332.71,352.96 L333.41,356.17 L334.10,358.90 L334.79,361.06 L335.49,362.77 L336.16,364.18 L336.80,365.40 L337.44,366.45 L338.07,367.26 L338.62,367.86 L339.00,368.30 Z" fill="#ebebeb" stroke-linejoin="round" stroke-linecap="round"/>
<path d="M308.30,368.30 L308.69,366.49 L309.25,363.90 L309.88,360.94 L310.50,358.00 L311.08,355.14 L311.66,352.16 L312.27,349.10 L312.90,346.00 L313.60,342.79 L314.34,339.49 L315.06,336.21 L315.70,333.10 L316.22,330.22 L316.66,327.49 L317.07,324.81 L317.50,322.10 L317.96,319.16 L318.43,316.09 L318.89,313.25 L319.30,311.00 L319.63,309.43 L319.91,308.34 L320.21,307.68 L320.60,307.40 L321.11,307.50 L321.71,308.01 L322.35,308.88 L323.00,310.10 L323.67,311.67 L324.38,313.61 L325.10,315.87 L325.80,318.40 L326.48,321.26 L327.15,324.45 L327.82,327.84 L328.50,331.30 L329.19,334.89 L329.89,338.65 L330.60,342.41 L331.30,346.00 L332.00,349.50 L332.71,352.96 L333.41,356.17 L334.10,358.90 L334.79,361.06 L335.49,362.77 L336.16,364.18 L336.80,365.40 L337.44,366.45 L338.07,367.26 L338.62,367.86 L339.00,368.30" fill="none" stroke="#b4b4b4" stroke-width="0.8" stroke-linejoin="round" stroke-linecap="round"/>
<path d="M308.30,368.30 L308.80,365.70 L309.53,361.92 L310.32,358.05 L311.00,355.20 L311.51,353.84 L311.94,353.32 L312.38,353.06 L312.90,352.50 L313.56,351.57 L314.31,350.55 L315.05,349.35 L315.70,347.90 L316.22,346.09 L316.66,343.98 L317.07,341.76 L317.50,339.60 L317.95,337.46 L318.39,335.28 L318.84,333.18 L319.30,331.30 L319.77,329.79 L320.25,328.55 L320.73,327.31 L321.20,325.80 L321.65,323.86 L322.10,321.65 L322.55,319.44 L323.00,317.50 L323.47,315.90 L323.95,314.50 L324.43,313.23 L324.90,312.00 L325.36,310.58 L325.81,309.07 L326.25,307.95 L326.70,307.70 L327.13,308.52 L327.54,310.12 L327.98,312.27 L328.50,314.70 L329.13,317.49 L329.84,320.73 L330.58,324.17 L331.30,327.60 L332.00,330.99 L332.71,334.44 L333.41,337.93 L334.10,341.40 L334.78,344.96 L335.45,348.58 L336.12,352.07 L336.80,355.20 L337.49,358.00 L338.19,360.54 L338.90,362.74 L339.60,364.50 L340.30,365.68 L341.01,366.36 L341.71,366.79 L342.40,367.20 L342.89,367.61 L343.25,367.92 L343.83,368.14 L345.00,368.30 L347.21,368.38 L350.16,368.37 L353.03,368.33 L355.00,368.30" fill="none" stroke="#000" stroke-width="1.15" stroke-linejoin="round" stroke-linecap="round"/>
<text x="29.6" y="218.79999999999998" font-size="4.6" text-anchor="start" font-weight="bold" fill="#222" stroke="#222" stroke-width="0.3" stroke-linejoin="round">0h</text>
<text x="97.6" y="218.79999999999998" font-size="4.6" text-anchor="start" font-weight="bold" fill="#222" stroke="#222" stroke-width="0.3" stroke-linejoin="round">2h</text>
<text x="166.3" y="218.79999999999998" font-size="4.6" text-anchor="start" font-weight="bold" fill="#222" stroke="#222" stroke-width="0.3" stroke-linejoin="round">4h</text>
<text x="234.2" y="218.79999999999998" font-size="4.6" text-anchor="start" font-weight="bold" fill="#222" stroke="#222" stroke-width="0.3" stroke-linejoin="round">8h</text>
<text x="303.5" y="218.79999999999998" font-size="4.6" text-anchor="start" font-weight="bold" fill="#222" stroke="#222" stroke-width="0.3" stroke-linejoin="round">16h</text>
<text x="30.4" y="309.1" font-size="4.6" text-anchor="start" font-weight="bold" fill="#222" stroke="#222" stroke-width="0.3" stroke-linejoin="round">0h</text>
<text x="99.9" y="309.1" font-size="4.6" text-anchor="start" font-weight="bold" fill="#222" stroke="#222" stroke-width="0.3" stroke-linejoin="round">2h</text>
<text x="167.5" y="309.1" font-size="4.6" text-anchor="start" font-weight="bold" fill="#222" stroke="#222" stroke-width="0.3" stroke-linejoin="round">4h</text>
<text x="235.9" y="309.1" font-size="4.6" text-anchor="start" font-weight="bold" fill="#222" stroke="#222" stroke-width="0.3" stroke-linejoin="round">8h</text>
<text x="303.9" y="309.1" font-size="4.6" text-anchor="start" font-weight="bold" fill="#222" stroke="#222" stroke-width="0.3" stroke-linejoin="round">16h</text>
<line x1="340.3" y1="220.4" x2="344.9" y2="220.4" stroke="#000" stroke-width="1.4"/>
<text x="346.5" y="220.9" font-size="6.4" text-anchor="start" font-weight="normal" fill="#555" font-family="Liberation Serif">α</text>
<text x="350.5" y="220.9" font-size="6.2" text-anchor="start" font-weight="bold" fill="#000" textLength="15.0" lengthAdjust="spacingAndGlyphs" stroke="#000" stroke-width="0.3" stroke-linejoin="round">-Gal</text>
<line x1="340.3" y1="227.0" x2="344.9" y2="227.0" stroke="#999" stroke-width="1.0"/>
<text x="347.5" y="228.6" font-size="6.2" text-anchor="start" font-weight="bold" fill="#000" textLength="16.4" lengthAdjust="spacingAndGlyphs" stroke="#000" stroke-width="0.3" stroke-linejoin="round">Auto</text>
<rect x="340.8" y="233.6" width="3.7" height="3.5" fill="#fff" stroke="#000" stroke-width="1.0"/>
<text x="347.5" y="236.4" font-size="6.2" text-anchor="start" font-weight="bold" fill="#000" textLength="9.0" lengthAdjust="spacingAndGlyphs" stroke="#000" stroke-width="0.3" stroke-linejoin="round">UT</text>
<line x1="341.40000000000003" y1="311.9" x2="346.0" y2="311.9" stroke="#000" stroke-width="1.4"/>
<text x="347.6" y="312.4" font-size="6.4" text-anchor="start" font-weight="normal" fill="#555" font-family="Liberation Serif">α</text>
<text x="351.6" y="312.4" font-size="6.2" text-anchor="start" font-weight="bold" fill="#000" textLength="15.0" lengthAdjust="spacingAndGlyphs" stroke="#000" stroke-width="0.3" stroke-linejoin="round">-Gal</text>
<line x1="341.40000000000003" y1="318.5" x2="346.0" y2="318.5" stroke="#999" stroke-width="1.0"/>
<text x="348.6" y="320.1" font-size="6.2" text-anchor="start" font-weight="bold" fill="#000" textLength="16.4" lengthAdjust="spacingAndGlyphs" stroke="#000" stroke-width="0.3" stroke-linejoin="round">Auto</text>
<rect x="341.90000000000003" y="325.1" width="3.7" height="3.5" fill="#fff" stroke="#000" stroke-width="1.0"/>
<text x="348.6" y="327.9" font-size="6.2" text-anchor="start" font-weight="bold" fill="#000" textLength="9.0" lengthAdjust="spacingAndGlyphs" stroke="#000" stroke-width="0.3" stroke-linejoin="round">UT</text>
<line x1="400.3" y1="208.82" x2="400.3" y2="280.6" stroke="#000" stroke-width="1.2"/>
<line x1="399.8" y1="279.8" x2="506.4" y2="279.8" stroke="#000" stroke-width="1.2"/>
<line x1="398.1" y1="279.4" x2="400.3" y2="279.4" stroke="#000" stroke-width="1.0"/>
<text x="398.4" y="281.5" font-size="5.8" text-anchor="end" font-weight="bold" fill="#000" stroke="#000" stroke-width="0.3" stroke-linejoin="round">0</text>
<line x1="398.1" y1="267.71999999999997" x2="400.3" y2="267.71999999999997" stroke="#000" stroke-width="1.0"/>
<text x="398.4" y="269.82" font-size="5.8" text-anchor="end" font-weight="bold" fill="#000" textLength="8.0" lengthAdjust="spacingAndGlyphs" stroke="#000" stroke-width="0.3" stroke-linejoin="round">100</text>
<line x1="398.1" y1="256.03999999999996" x2="400.3" y2="256.03999999999996" stroke="#000" stroke-width="1.0"/>
<text x="398.4" y="258.14" font-size="5.8" text-anchor="end" font-weight="bold" fill="#000" textLength="8.0" lengthAdjust="spacingAndGlyphs" stroke="#000" stroke-width="0.3" stroke-linejoin="round">200</text>
<line x1="398.1" y1="244.35999999999999" x2="400.3" y2="244.35999999999999" stroke="#000" stroke-width="1.0"/>
<text x="398.4" y="246.45999999999998" font-size="5.8" text-anchor="end" font-weight="bold" fill="#000" textLength="8.0" lengthAdjust="spacingAndGlyphs" stroke="#000" stroke-width="0.3" stroke-linejoin="round">300</text>
<line x1="398.1" y1="232.67999999999998" x2="400.3" y2="232.67999999999998" stroke="#000" stroke-width="1.0"/>
<text x="398.4" y="234.77999999999997" font-size="5.8" text-anchor="end" font-weight="bold" fill="#000" textLength="8.0" lengthAdjust="spacingAndGlyphs" stroke="#000" stroke-width="0.3" stroke-linejoin="round">400</text>
<line x1="398.1" y1="220.99999999999997" x2="400.3" y2="220.99999999999997" stroke="#000" stroke-width="1.0"/>
<text x="398.4" y="223.09999999999997" font-size="5.8" text-anchor="end" font-weight="bold" fill="#000" textLength="8.0" lengthAdjust="spacingAndGlyphs" stroke="#000" stroke-width="0.3" stroke-linejoin="round">500</text>
<line x1="398.1" y1="209.32" x2="400.3" y2="209.32" stroke="#000" stroke-width="1.0"/>
<text x="398.4" y="211.42" font-size="5.8" text-anchor="end" font-weight="bold" fill="#000" textLength="8.0" lengthAdjust="spacingAndGlyphs" stroke="#000" stroke-width="0.3" stroke-linejoin="round">600</text>
<line x1="429.55" y1="279.8" x2="429.55" y2="282.0" stroke="#000" stroke-width="1.0"/>
<line x1="458.8" y1="279.8" x2="458.8" y2="282.0" stroke="#000" stroke-width="1.0"/>
<line x1="488.05" y1="279.8" x2="488.05" y2="282.0" stroke="#000" stroke-width="1.0"/>
<text x="405.1" y="214.6" font-size="8.2" text-anchor="start" font-weight="bold" fill="#000" textLength="22.0" lengthAdjust="spacingAndGlyphs" stroke="#000" stroke-width="0.3" stroke-linejoin="round">CD69</text>
<text x="385.4" y="246.0" font-size="9.6" text-anchor="start" font-weight="bold" fill="#000" transform="rotate(-90 385.4 246.0)" textLength="15.8" lengthAdjust="spacingAndGlyphs" stroke="#000" stroke-width="0.3" stroke-linejoin="round">MFI</text>
<text x="385.2" y="251.8" font-size="7.6" text-anchor="start" font-weight="normal" fill="#000" transform="rotate(-90 385.2 251.8)" font-family="Liberation Serif">Δ</text>
<path d="M400.30,279.40 L401.47,272.85 L402.64,266.99 L403.81,261.74 L404.98,257.03 L406.15,252.82 L407.32,249.04 L408.49,245.66 L409.66,242.63 L410.83,239.91 L412.00,237.48 L413.17,235.30 L414.34,233.35 L415.51,231.60 L416.68,230.03 L417.85,228.63 L419.02,227.37 L420.19,226.25 L421.36,225.24 L422.53,224.33 L423.70,223.52 L424.87,222.80 L426.04,222.15 L427.21,221.57 L428.38,221.05 L429.55,220.58 L430.72,220.16 L431.89,219.79 L433.06,219.45 L434.23,219.15 L435.40,218.88 L436.57,218.64 L437.74,218.42 L438.91,218.23 L440.08,218.05 L441.25,217.90 L442.42,217.76 L443.59,217.63 L444.76,217.52 L445.93,217.42 L447.10,217.33 L448.27,217.25 L449.44,217.18 L450.61,217.12 L451.78,217.06 L452.95,217.01 L454.12,216.96 L455.29,216.92 L456.46,216.88 L457.63,216.85 L458.80,216.82 L459.97,216.79 L461.14,216.77 L462.31,216.75 L463.48,216.73 L464.65,216.71 L465.82,216.69 L466.99,216.68 L468.16,216.67 L469.33,216.66 L470.50,216.65 L471.67,216.64 L472.84,216.63 L474.01,216.62 L475.18,216.62 L476.35,216.61 L477.52,216.61 L478.69,216.60 L479.86,216.60 L481.03,216.59 L482.20,216.59 L483.37,216.59 L484.54,216.58 L485.71,216.58 L486.88,216.58 L488.05,216.58 L489.22,216.58 L490.39,216.57 L491.56,216.57 L492.73,216.57 L493.90,216.57" fill="none" stroke="#000" stroke-width="1.2" stroke-linejoin="round" stroke-linecap="round"/>
<path d="M400.30,279.40 L401.47,275.91 L402.64,272.78 L403.81,269.98 L404.98,267.47 L406.15,265.22 L407.32,263.20 L408.49,261.40 L409.66,259.78 L410.83,258.33 L412.00,257.04 L413.17,255.87 L414.34,254.83 L415.51,253.90 L416.68,253.06 L417.85,252.32 L419.02,251.65 L420.19,251.04 L421.36,250.51 L422.53,250.02 L423.70,249.59 L424.87,249.21 L426.04,248.86 L427.21,248.55 L428.38,248.27 L429.55,248.02 L430.72,247.80 L431.89,247.60 L433.06,247.42 L434.23,247.26 L435.40,247.11 L436.57,246.99 L437.74,246.87 L438.91,246.77 L440.08,246.67 L441.25,246.59 L442.42,246.52 L443.59,246.45 L444.76,246.39 L445.93,246.34 L447.10,246.29 L448.27,246.25 L449.44,246.21 L450.61,246.17 L451.78,246.14 L452.95,246.12 L454.12,246.09 L455.29,246.07 L456.46,246.05 L457.63,246.03 L458.80,246.02 L459.97,246.00 L461.14,245.99 L462.31,245.98 L463.48,245.97 L464.65,245.96 L465.82,245.95 L466.99,245.94 L468.16,245.94 L469.33,245.93 L470.50,245.92 L471.67,245.92 L472.84,245.91 L474.01,245.91 L475.18,245.91 L476.35,245.90 L477.52,245.90 L478.69,245.90 L479.86,245.90 L481.03,245.90 L482.20,245.89 L483.37,245.89 L484.54,245.89 L485.71,245.89 L486.88,245.89 L488.05,245.89 L489.22,245.89 L490.39,245.89 L491.56,245.88 L492.73,245.88 L493.90,245.88" fill="none" stroke="#000" stroke-width="1.2" stroke-linejoin="round" stroke-linecap="round"/>
<circle cx="412.00" cy="236.77" r="2.0" fill="#000"/>
<circle cx="423.70" cy="225.44" r="2.0" fill="#000"/>
<circle cx="447.10" cy="221.35" r="2.0" fill="#000"/>
<circle cx="470.50" cy="214.11" r="2.0" fill="#000"/>
<circle cx="493.90" cy="214.46" r="2.0" fill="#000"/>
<path d="M409.90,258.75 L414.10,258.75 L412.00,254.97 Z" fill="#000"/>
<path d="M421.60,251.04 L425.80,251.04 L423.70,247.26 Z" fill="#000"/>
<path d="M445.00,250.69 L449.20,250.69 L447.10,246.91 Z" fill="#000"/>
<path d="M468.40,247.77 L472.60,247.77 L470.50,243.99 Z" fill="#000"/>
<path d="M491.80,246.37 L496.00,246.37 L493.90,242.59 Z" fill="#000"/>
<rect x="399.5" y="277.01599999999996" width="3.6" height="3.6" fill="#000"/>
<circle cx="401.10" cy="277.65" r="1.9" fill="#000"/>
<path d="M467.50,265.89 L471.70,265.89 L469.60,262.11 Z" fill="#000"/>
<text x="476.4" y="266.7" font-size="7.4" text-anchor="start" font-weight="bold" fill="#000" textLength="44.2" lengthAdjust="spacingAndGlyphs" stroke="#000" stroke-width="0.3" stroke-linejoin="round">Autoreactive</text>
<circle cx="469.80" cy="271.80" r="1.9" fill="#000"/>
<text x="477.6" y="273.8" font-size="7.2" text-anchor="start" font-weight="normal" fill="#000" font-family="Liberation Serif">α</text>
<text x="481.6" y="273.8" font-size="7.0" text-anchor="start" font-weight="bold" fill="#000" textLength="23.2" lengthAdjust="spacingAndGlyphs" stroke="#000" stroke-width="0.3" stroke-linejoin="round">-Galcer</text>
<line x1="400.3" y1="298.9" x2="400.3" y2="369.1" stroke="#000" stroke-width="1.2"/>
<line x1="399.8" y1="368.5" x2="506.4" y2="368.5" stroke="#000" stroke-width="1.2"/>
<line x1="398.1" y1="368.5" x2="400.3" y2="368.5" stroke="#000" stroke-width="1.0"/>
<text x="398.4" y="370.6" font-size="5.8" text-anchor="end" font-weight="bold" fill="#000" stroke="#000" stroke-width="0.3" stroke-linejoin="round">0</text>
<line x1="398.1" y1="353.35" x2="400.3" y2="353.35" stroke="#000" stroke-width="1.0"/>
<text x="398.4" y="355.45000000000005" font-size="5.8" text-anchor="end" font-weight="bold" fill="#000" textLength="8.0" lengthAdjust="spacingAndGlyphs" stroke="#000" stroke-width="0.3" stroke-linejoin="round">200</text>
<line x1="398.1" y1="338.2" x2="400.3" y2="338.2" stroke="#000" stroke-width="1.0"/>
<text x="398.4" y="340.3" font-size="5.8" text-anchor="end" font-weight="bold" fill="#000" textLength="8.0" lengthAdjust="spacingAndGlyphs" stroke="#000" stroke-width="0.3" stroke-linejoin="round">400</text>
<line x1="398.1" y1="323.05" x2="400.3" y2="323.05" stroke="#000" stroke-width="1.0"/>
<text x="398.4" y="325.15000000000003" font-size="5.8" text-anchor="end" font-weight="bold" fill="#000" textLength="8.0" lengthAdjust="spacingAndGlyphs" stroke="#000" stroke-width="0.3" stroke-linejoin="round">600</text>
<line x1="398.1" y1="307.9" x2="400.3" y2="307.9" stroke="#000" stroke-width="1.0"/>
<text x="398.4" y="310.0" font-size="5.8" text-anchor="end" font-weight="bold" fill="#000" textLength="8.0" lengthAdjust="spacingAndGlyphs" stroke="#000" stroke-width="0.3" stroke-linejoin="round">800</text>
<line x1="400.3" y1="368.5" x2="400.3" y2="370.7" stroke="#000" stroke-width="1.0"/>
<text x="400.3" y="377.2" font-size="5.4" text-anchor="middle" font-weight="bold" fill="#000" stroke="#000" stroke-width="0.3" stroke-linejoin="round">0</text>
<line x1="429.55" y1="368.5" x2="429.55" y2="370.7" stroke="#000" stroke-width="1.0"/>
<text x="429.55" y="377.2" font-size="5.4" text-anchor="middle" font-weight="bold" fill="#000" stroke="#000" stroke-width="0.3" stroke-linejoin="round">5</text>
<line x1="458.8" y1="368.5" x2="458.8" y2="370.7" stroke="#000" stroke-width="1.0"/>
<text x="458.8" y="377.2" font-size="5.4" text-anchor="middle" font-weight="bold" fill="#000" stroke="#000" stroke-width="0.3" stroke-linejoin="round">10</text>
<line x1="488.05" y1="368.5" x2="488.05" y2="370.7" stroke="#000" stroke-width="1.0"/>
<text x="488.05" y="377.2" font-size="5.4" text-anchor="middle" font-weight="bold" fill="#000" stroke="#000" stroke-width="0.3" stroke-linejoin="round">15</text>
<text x="456.6" y="388.7" font-size="8.3" text-anchor="middle" font-weight="bold" fill="#000" stroke="#000" stroke-width="0.3" stroke-linejoin="round">Time (h)</text>
<text x="404.0" y="306.1" font-size="8.2" text-anchor="start" font-weight="bold" fill="#000" textLength="21.6" lengthAdjust="spacingAndGlyphs" stroke="#000" stroke-width="0.3" stroke-linejoin="round">CD69</text>
<text x="385.4" y="335.6" font-size="9.6" text-anchor="start" font-weight="bold" fill="#000" transform="rotate(-90 385.4 335.6)" textLength="15.4" lengthAdjust="spacingAndGlyphs" stroke="#000" stroke-width="0.3" stroke-linejoin="round">MFI</text>
<text x="385.2" y="340.6" font-size="7.6" text-anchor="start" font-weight="normal" fill="#000" transform="rotate(-90 385.2 340.6)" font-family="Liberation Serif">Δ</text>
<path d="M400.30,367.74 L400.75,367.60 L401.35,367.44 L402.07,367.25 L402.86,367.02 L403.70,366.74 L404.55,366.40 L405.38,365.98 L406.15,365.47 L406.88,364.86 L407.61,364.16 L408.34,363.37 L409.08,362.53 L409.81,361.63 L410.54,360.70 L411.27,359.75 L412.00,358.80 L412.73,357.83 L413.46,356.83 L414.19,355.78 L414.93,354.71 L415.66,353.63 L416.39,352.53 L417.12,351.42 L417.85,350.32 L418.54,349.25 L419.18,348.23 L419.79,347.22 L420.41,346.19 L421.08,345.11 L421.83,343.94 L422.69,342.66 L423.70,341.23 L424.88,339.58 L426.21,337.73 L427.66,335.73 L429.18,333.65 L430.76,331.58 L432.34,329.58 L433.90,327.73 L435.40,326.08 L436.86,324.62 L438.32,323.27 L439.79,322.02 L441.25,320.86 L442.71,319.79 L444.18,318.79 L445.64,317.86 L447.10,316.99 L448.56,316.20 L450.03,315.51 L451.49,314.90 L452.95,314.35 L454.41,313.87 L455.88,313.42 L457.34,313.00 L458.80,312.60 L460.26,312.22 L461.73,311.88 L463.19,311.59 L464.65,311.33 L466.11,311.10 L467.57,310.90 L469.04,310.72 L470.50,310.55 L471.96,310.40 L473.43,310.27 L474.89,310.17 L476.35,310.09 L477.81,310.03 L479.27,310.00 L480.74,310.00 L482.20,310.02 L483.74,310.09 L485.40,310.21 L487.10,310.37 L488.78,310.56 L490.37,310.74 L491.80,310.91 L493.00,311.06 L493.90,311.16" fill="none" stroke="#000" stroke-width="1.2" stroke-linejoin="round" stroke-linecap="round"/>
<path d="M400.30,368.12 L400.75,368.10 L401.35,368.08 L402.07,368.06 L402.86,368.03 L403.70,367.98 L404.55,367.93 L405.38,367.85 L406.15,367.74 L406.84,367.64 L407.48,367.56 L408.09,367.47 L408.71,367.36 L409.38,367.21 L410.13,366.98 L410.99,366.66 L412.00,366.23 L413.18,365.66 L414.51,364.98 L415.96,364.21 L417.48,363.36 L419.06,362.48 L420.64,361.57 L422.20,360.66 L423.70,359.79 L425.16,358.91 L426.62,358.00 L428.09,357.06 L429.55,356.12 L431.01,355.19 L432.47,354.28 L433.94,353.41 L435.40,352.59 L436.86,351.82 L438.32,351.06 L439.79,350.33 L441.25,349.63 L442.71,348.97 L444.18,348.36 L445.64,347.79 L447.10,347.29 L448.56,346.84 L450.03,346.45 L451.49,346.11 L452.95,345.81 L454.41,345.56 L455.88,345.34 L457.34,345.16 L458.80,345.02 L460.26,344.91 L461.73,344.84 L463.19,344.81 L464.65,344.82 L466.11,344.86 L467.57,344.94 L469.04,345.04 L470.50,345.17 L471.96,345.33 L473.43,345.52 L474.89,345.75 L476.35,346.00 L477.81,346.29 L479.27,346.60 L480.74,346.93 L482.20,347.29 L483.74,347.71 L485.40,348.21 L487.10,348.75 L488.78,349.32 L490.37,349.86 L491.80,350.36 L493.00,350.77 L493.90,351.08" fill="none" stroke="#000" stroke-width="1.2" stroke-linejoin="round" stroke-linecap="round"/>
<circle cx="401.10" cy="367.59" r="2.0" fill="#000"/>
<circle cx="412.00" cy="359.11" r="2.0" fill="#000"/>
<circle cx="423.70" cy="341.23" r="2.0" fill="#000"/>
<circle cx="447.10" cy="316.46" r="2.0" fill="#000"/>
<circle cx="470.50" cy="310.17" r="2.0" fill="#000"/>
<circle cx="493.90" cy="310.93" r="2.0" fill="#000"/>
<path d="M409.90,368.88 L414.10,368.88 L412.00,365.10 Z" fill="#000"/>
<path d="M421.60,361.68 L425.80,361.68 L423.70,357.90 Z" fill="#000"/>
<path d="M445.00,349.56 L449.20,349.56 L447.10,345.78 Z" fill="#000"/>
<path d="M468.40,346.68 L472.60,346.68 L470.50,342.90 Z" fill="#000"/>
<path d="M491.80,352.97 L496.00,352.97 L493.90,349.19 Z" fill="#000"/>
</svg>
</body></html>
